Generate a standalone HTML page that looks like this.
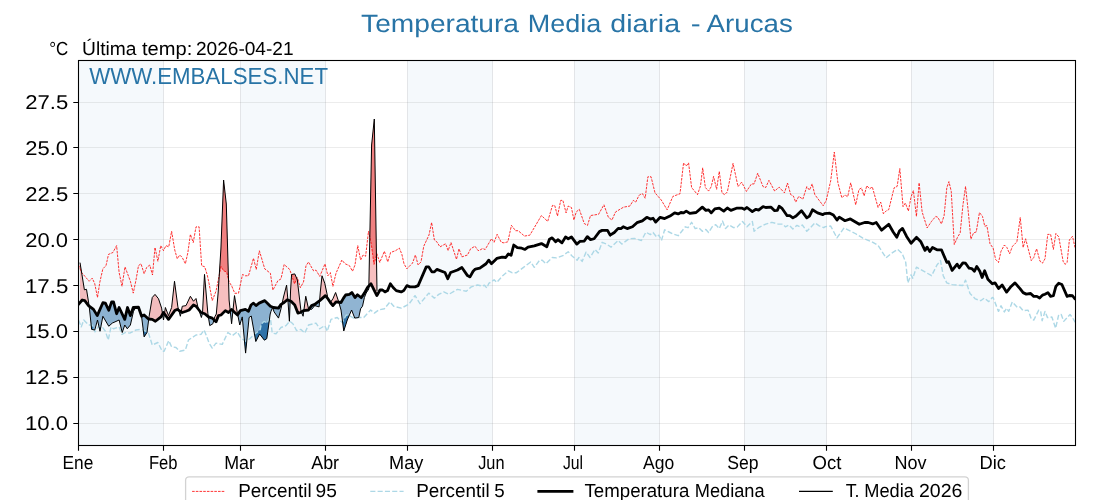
<!DOCTYPE html><html><head><meta charset="utf-8"><title>Temperatura Media diaria - Arucas</title>
<style>html,body{margin:0;padding:0;background:#fff;}body{width:1120px;height:500px;overflow:hidden;}svg{display:block;}text{font-family:"Liberation Sans",sans-serif;text-rendering:geometricPrecision;}svg{will-change:transform;}</style></head><body>
<svg width="1120" height="500" viewBox="0 0 1120 500">
<rect x="0" y="0" width="1120" height="500" fill="#fff"/>
<rect x="78.50" y="60.5" width="85.00" height="385.00" fill="#f5f9fc"/>
<rect x="240.50" y="60.5" width="85.00" height="385.00" fill="#f5f9fc"/>
<rect x="407.50" y="60.5" width="85.00" height="385.00" fill="#f5f9fc"/>
<rect x="574.50" y="60.5" width="85.00" height="385.00" fill="#f5f9fc"/>
<rect x="744.50" y="60.5" width="82.00" height="385.00" fill="#f5f9fc"/>
<rect x="911.50" y="60.5" width="82.00" height="385.00" fill="#f5f9fc"/>
<path d="M163.50,60.5 V445.5 M240.50,60.5 V445.5 M325.50,60.5 V445.5 M407.50,60.5 V445.5 M492.50,60.5 V445.5 M574.50,60.5 V445.5 M659.50,60.5 V445.5 M744.50,60.5 V445.5 M826.50,60.5 V445.5 M911.50,60.5 V445.5 M993.50,60.5 V445.5" stroke="#707880" stroke-opacity="0.17" stroke-width="1" fill="none"/>
<path d="M78.5,423.50 H1075.5 M78.5,377.50 H1075.5 M78.5,331.50 H1075.5 M78.5,285.50 H1075.5 M78.5,239.50 H1075.5 M78.5,193.50 H1075.5 M78.5,147.50 H1075.5 M78.5,102.50 H1075.5" stroke="#808080" stroke-opacity="0.15" stroke-width="1" fill="none"/>
<clipPath id="ax"><rect x="78.5" y="60.5" width="997.0" height="385.0"/></clipPath>
<g clip-path="url(#ax)" fill="none" stroke-linejoin="round">
<path d="M80.00,262.60 L80.50,265.69 L81.00,268.78 L81.25,270.33 L81.50,271.87 L81.62,272.65 L82.00,274.96 L82.25,276.51 L82.50,278.05 L83.00,281.15 L83.50,284.24 L83.75,285.78 L84.00,287.33 L84.40,289.80 L84.50,289.78 L84.75,289.72 L85.00,289.66 L85.50,289.54 L86.00,289.42 L86.50,289.30 L87.00,292.41 L87.50,295.53 L88.00,298.64 L88.50,301.75 L88.70,303.00 L89.00,305.33 L89.12,306.09 L89.50,306.38 L89.60,306.45 L90.00,306.75 L90.50,307.12 L91.00,307.50 L91.50,307.88 L91.62,307.97 L92.00,308.25 L92.25,308.44 L92.50,308.62 L93.00,309.00 L93.50,309.38 L94.00,310.21 L94.50,311.04 L94.75,311.46 L95.00,311.88 L95.50,312.71 L96.00,313.54 L96.50,314.38 L97.00,315.21 L97.25,315.62 L97.50,315.05 L97.88,314.19 L98.00,313.91 L98.50,312.76 L99.00,311.62 L99.50,310.48 L99.75,309.90 L100.00,309.33 L100.50,308.19 L101.00,307.04 L101.50,305.90 L101.62,305.61 L102.00,304.75 L102.50,303.61 L102.88,302.75 L103.00,302.77 L103.50,302.84 L104.00,302.92 L104.50,302.99 L105.00,303.07 L105.38,303.12 L105.50,303.39 L106.00,304.44 L106.50,305.50 L107.00,306.56 L107.50,307.61 L108.00,308.67 L108.25,309.19 L108.50,309.72 L108.75,310.25 L109.00,309.52 L109.50,308.07 L110.00,306.61 L110.50,305.15 L111.00,303.70 L111.50,302.24 L111.62,301.88 L112.00,301.88 L112.25,301.88 L112.50,301.88 L112.88,301.88 L113.00,301.88 L113.50,301.88 L114.00,303.77 L114.50,305.68 L115.00,307.57 L115.50,309.48 L116.00,311.38 L116.50,313.27 L116.62,313.75 L117.00,312.81 L117.50,311.56 L118.00,310.31 L118.50,309.06 L119.00,307.81 L119.12,307.50 L119.50,308.29 L120.00,309.35 L120.50,310.40 L121.00,311.46 L121.50,312.51 L122.00,313.57 L122.25,314.10 L122.50,314.62 L123.00,315.68 L123.50,316.74 L124.00,317.79 L124.12,318.06 L124.50,318.85 L124.75,319.38 L125.00,318.30 L125.38,316.68 L125.50,316.14 L126.00,313.98 L126.50,311.82 L127.00,309.66 L127.25,308.58 L127.50,307.50 L128.00,308.91 L128.50,310.33 L129.00,311.74 L129.50,313.15 L129.75,313.86 L130.00,314.57 L130.38,315.62 L130.50,315.27 L131.00,313.86 L131.50,312.45 L132.00,311.03 L132.50,309.62 L133.00,308.21 L133.25,307.50 L133.50,307.49 L134.00,307.46 L134.50,307.44 L135.00,307.42 L135.50,307.39 L135.75,307.38 L136.00,307.37 L136.50,307.33 L137.00,307.22 L137.50,307.10 L138.00,306.99 L138.50,306.88 L139.00,308.48 L139.50,310.07 L140.00,311.57 L140.50,313.01 L141.00,314.45 L141.50,315.89 L141.62,316.25 L142.00,316.06 L142.50,315.81 L143.00,315.56 L143.50,315.31 L144.00,315.06 L144.12,315.00 L144.50,315.34 L145.00,315.80 L145.50,316.26 L146.00,316.71 L146.50,317.17 L146.62,317.29 L147.00,317.63 L147.50,318.09 L148.00,318.54 L148.50,319.00 L149.00,317.21 L149.12,316.25 L149.50,314.00 L149.75,312.50 L150.00,311.00 L150.50,308.00 L151.00,305.00 L151.50,302.00 L152.00,299.00 L152.25,297.50 L152.50,297.22 L153.00,296.65 L153.50,296.08 L154.00,295.51 L154.50,294.94 L155.00,294.38 L155.38,294.84 L155.50,295.00 L156.00,295.62 L156.50,296.25 L157.00,296.88 L157.50,297.50 L157.88,297.97 L158.00,298.12 L158.50,298.75 L159.00,300.25 L159.50,301.75 L160.00,303.25 L160.50,304.75 L160.75,305.50 L161.00,306.25 L161.50,307.75 L161.62,308.12 L162.00,310.50 L162.25,312.08 L162.50,313.67 L163.00,313.38 L163.50,312.50 L164.00,313.19 L164.12,313.36 L164.50,313.33 L165.00,310.00 L165.38,307.50 L165.50,307.82 L166.00,309.12 L166.50,310.43 L167.00,311.73 L167.50,313.02 L168.00,314.32 L168.50,315.62 L168.75,314.98 L169.00,314.32 L169.50,313.02 L170.00,311.73 L170.50,310.43 L171.00,309.12 L171.50,307.82 L171.62,307.50 L172.00,304.08 L172.50,299.51 L173.00,294.95 L173.50,290.38 L174.00,285.82 L174.50,281.25 L174.75,283.15 L175.00,285.05 L175.50,288.84 L176.00,292.64 L176.50,296.44 L177.00,300.23 L177.25,302.13 L177.50,304.03 L177.88,306.88 L178.00,307.34 L178.50,309.22 L179.00,310.47 L179.50,310.78 L179.75,310.94 L180.00,311.09 L180.38,311.33 L180.50,311.41 L181.00,311.72 L181.50,310.25 L182.00,307.58 L182.25,306.25 L182.50,306.21 L183.00,306.12 L183.50,306.04 L184.00,305.96 L184.50,305.88 L185.00,305.79 L185.38,305.73 L185.50,305.71 L186.00,305.62 L186.50,304.55 L187.00,303.48 L187.50,302.41 L187.88,301.61 L188.00,301.34 L188.50,300.27 L189.00,299.20 L189.12,298.93 L189.50,298.12 L190.00,297.05 L190.38,296.25 L190.50,296.45 L191.00,297.25 L191.50,298.05 L192.00,298.85 L192.50,299.65 L193.00,300.45 L193.25,300.85 L193.50,301.25 L194.00,300.70 L194.50,300.15 L195.00,299.60 L195.50,299.05 L196.00,298.50 L196.50,300.73 L197.00,302.97 L197.50,305.20 L197.88,306.88 L198.00,307.25 L198.50,308.77 L199.00,310.00 L199.12,310.16 L199.50,310.62 L200.00,311.25 L200.50,311.88 L201.00,312.50 L201.38,312.62 L201.50,312.67 L201.62,312.71 L202.00,312.83 L202.50,313.00 L203.00,303.44 L203.50,293.75 L204.00,284.06 L204.12,281.64 L204.50,274.38 L204.75,277.29 L205.00,280.21 L205.50,286.04 L206.00,291.88 L206.50,297.71 L206.62,299.17 L207.00,303.54 L207.25,306.46 L207.50,309.38 L207.88,313.75 L208.00,314.54 L208.50,316.88 L209.00,317.04 L209.12,317.08 L209.50,317.21 L209.75,317.29 L210.00,317.38 L210.50,317.54 L211.00,317.71 L211.50,317.88 L212.00,318.04 L212.25,318.12 L212.50,318.38 L212.88,318.75 L213.00,318.88 L213.50,319.38 L214.00,319.62 L214.50,317.79 L214.75,316.88 L215.00,316.41 L215.50,315.48 L216.00,314.56 L216.30,314.00 L216.50,311.68 L217.00,305.89 L217.50,300.11 L217.88,295.76 L218.00,294.32 L218.20,292.00 L218.50,287.22 L219.00,279.26 L219.50,271.30 L220.00,263.33 L220.50,255.37 L220.90,249.00 L221.00,246.44 L221.50,233.67 L222.00,220.89 L222.25,214.50 L222.50,208.11 L223.00,195.33 L223.50,182.56 L223.60,180.00 L224.00,183.56 L224.50,188.00 L225.00,192.44 L225.38,195.78 L225.50,196.89 L226.00,201.33 L226.30,204.00 L226.50,210.86 L226.62,215.14 L227.00,228.00 L227.50,245.14 L227.88,258.00 L228.00,262.29 L228.50,279.43 L229.00,296.57 L229.10,300.00 L229.12,300.24 L229.50,303.80 L230.00,308.55 L230.50,310.50 L231.00,310.00 L231.50,309.50 L231.60,309.40 L231.62,309.38 L232.00,309.75 L232.25,310.00 L232.50,310.25 L233.00,310.16 L233.50,305.31 L234.00,300.45 L234.50,295.60 L234.75,297.12 L235.00,298.64 L235.50,301.67 L236.00,304.71 L236.50,307.75 L237.00,310.79 L237.20,312.00 L237.25,312.25 L237.50,313.53 L238.00,314.24 L238.50,313.48 L239.00,312.72 L239.50,311.96 L239.75,311.58 L240.00,311.20 L240.38,310.62 L240.50,310.59 L241.00,310.47 L241.50,310.34 L242.00,310.22 L242.25,310.16 L242.50,310.09 L243.00,309.97 L243.50,309.84 L244.00,309.72 L244.50,309.59 L245.00,309.47 L245.38,309.38 L245.50,309.45 L245.60,309.51 L246.00,309.75 L246.50,310.05 L247.00,310.35 L247.50,310.65 L248.00,310.95 L248.50,311.25 L249.00,310.00 L249.10,309.75 L249.50,308.75 L249.75,308.12 L250.00,307.50 L250.50,306.25 L251.00,305.00 L251.25,304.81 L251.50,304.62 L252.00,304.25 L252.50,303.88 L253.00,303.50 L253.50,303.12 L254.00,303.62 L254.50,304.12 L254.75,304.38 L255.00,304.62 L255.50,305.12 L255.80,305.43 L256.00,305.62 L256.25,305.43 L256.50,305.23 L257.00,304.82 L257.50,304.43 L258.00,304.02 L258.50,303.62 L259.00,303.23 L259.12,303.12 L259.38,303.01 L259.50,302.96 L259.60,302.91 L260.00,302.74 L260.20,302.65 L260.50,302.51 L261.00,302.29 L261.30,302.16 L261.50,302.07 L262.00,301.85 L262.50,301.62 L263.00,301.40 L263.50,301.18 L264.00,300.96 L264.40,300.78 L264.50,300.74 L264.75,300.62 L265.00,300.88 L265.50,301.38 L266.00,301.88 L266.50,302.38 L266.80,302.68 L267.00,302.88 L267.20,303.07 L267.50,303.38 L267.88,303.75 L268.00,303.88 L268.50,304.38 L269.00,304.88 L269.30,305.18 L269.50,305.38 L270.00,305.88 L270.20,306.07 L270.38,306.25 L270.50,306.30 L271.00,306.50 L271.50,306.70 L272.00,306.90 L272.25,307.00 L272.50,307.10 L272.60,307.14 L272.88,307.25 L273.00,307.30 L273.50,307.50 L274.00,307.56 L274.10,307.57 L274.50,307.62 L275.00,307.69 L275.50,307.75 L276.00,307.81 L276.50,307.88 L277.00,307.94 L277.50,308.00 L277.88,308.05 L278.00,308.06 L278.50,308.12 L279.00,307.38 L279.50,306.62 L280.00,305.88 L280.50,305.12 L281.00,304.38 L281.50,304.07 L282.00,303.77 L282.50,301.70 L283.00,299.35 L283.50,297.00 L284.00,295.08 L284.12,294.60 L284.50,293.16 L285.00,291.24 L285.50,289.32 L286.00,287.40 L286.50,285.48 L286.60,285.10 L287.00,289.68 L287.25,292.55 L287.50,295.42 L287.90,300.00 L288.00,300.05 L288.50,300.25 L289.00,300.45 L289.40,300.61 L289.50,300.65 L289.75,300.75 L290.00,300.85 L290.50,292.60 L290.60,290.00 L291.00,283.80 L291.50,276.05 L291.60,274.50 L292.00,274.42 L292.50,274.33 L292.88,274.26 L293.00,274.23 L293.50,274.14 L294.00,274.04 L294.50,273.95 L294.75,273.90 L295.00,274.46 L295.50,275.58 L296.00,276.70 L296.50,277.82 L296.62,278.10 L297.00,278.94 L297.25,279.50 L297.50,281.62 L297.88,284.79 L298.00,285.85 L298.50,290.08 L299.00,294.32 L299.50,298.55 L300.00,302.78 L300.38,305.96 L300.50,307.02 L301.00,311.25 L301.50,311.82 L302.00,311.52 L302.50,311.23 L303.00,310.93 L303.10,310.87 L303.50,310.62 L304.00,309.46 L304.50,305.68 L304.75,303.80 L305.00,301.91 L305.50,298.14 L305.75,296.25 L306.00,297.39 L306.50,299.66 L307.00,301.93 L307.50,304.20 L308.00,306.48 L308.50,308.75 L309.00,308.85 L309.50,308.60 L310.00,307.90 L310.50,307.20 L311.00,306.50 L311.50,305.80 L311.60,305.66 L311.62,305.62 L312.00,305.48 L312.50,305.27 L313.00,305.07 L313.50,304.88 L314.00,304.68 L314.50,304.48 L314.75,304.38 L315.00,304.19 L315.50,303.81 L316.00,303.44 L316.50,303.06 L317.00,302.69 L317.50,302.31 L318.00,301.94 L318.50,301.56 L319.00,301.19 L319.10,301.11 L319.50,300.81 L319.75,298.83 L320.00,295.73 L320.30,292.00 L320.50,290.09 L321.00,285.31 L321.50,280.53 L322.00,275.75 L322.50,277.11 L323.00,278.48 L323.50,279.84 L324.00,281.20 L324.50,282.57 L324.75,283.25 L325.00,284.42 L325.38,286.18 L325.50,286.76 L326.00,289.10 L326.50,291.44 L327.00,293.79 L327.25,294.96 L327.50,296.13 L327.88,297.88 L327.90,298.00 L328.00,298.18 L328.50,299.08 L329.00,299.98 L329.50,300.88 L330.00,301.78 L330.38,302.46 L330.40,302.50 L330.50,302.35 L331.00,301.60 L331.50,300.85 L332.00,300.10 L332.50,299.35 L332.88,298.79 L332.90,298.75 L333.00,298.52 L333.50,297.36 L334.00,296.20 L334.50,295.05 L335.00,293.89 L335.50,292.73 L335.60,292.50 L336.00,293.71 L336.50,295.22 L337.00,296.72 L337.25,297.48 L337.50,298.23 L338.00,299.74 L338.50,301.25 L339.00,302.25 L339.50,302.31 L340.00,302.38 L340.50,302.44 L341.00,302.50 L341.50,301.62 L341.88,300.97 L342.00,300.75 L342.25,300.31 L342.50,299.88 L343.00,299.00 L343.50,298.12 L343.75,297.76 L344.00,297.39 L344.50,296.65 L345.00,295.92 L345.50,295.18 L345.62,295.00 L346.00,294.94 L346.25,294.90 L346.50,294.85 L347.00,294.77 L347.25,294.73 L347.50,294.69 L348.00,294.60 L348.50,294.52 L349.00,294.44 L349.38,294.38 L349.50,294.28 L350.00,293.91 L350.50,293.53 L351.00,293.16 L351.50,292.78 L351.60,292.71 L351.88,292.50 L352.00,292.70 L352.50,293.50 L353.00,294.30 L353.50,295.10 L353.75,295.50 L354.00,295.90 L354.50,296.70 L354.75,297.10 L355.00,297.50 L355.50,296.95 L356.00,296.40 L356.50,295.85 L357.00,295.30 L357.50,294.75 L357.75,294.95 L358.00,295.15 L358.50,295.55 L358.75,295.75 L359.00,295.95 L359.50,296.35 L360.00,296.75 L360.50,297.15 L360.60,297.23 L360.62,297.25 L361.00,297.55 L361.25,297.75 L361.50,297.38 L362.00,296.64 L362.50,295.90 L363.00,295.16 L363.12,294.98 L363.50,294.42 L363.75,294.05 L364.00,293.68 L364.38,293.12 L364.40,293.08 L364.50,292.90 L365.00,292.00 L365.50,291.10 L365.62,290.88 L366.00,290.20 L366.20,289.84 L366.50,289.30 L367.00,288.40 L367.50,287.50 L368.00,286.96 L368.50,286.43 L368.80,286.11 L369.00,278.71 L369.50,253.00 L370.00,227.29 L370.50,201.57 L370.62,195.14 L371.00,175.86 L371.25,163.00 L371.50,150.14 L371.60,145.00 L372.00,141.15 L372.50,136.33 L373.00,131.52 L373.50,126.70 L373.75,124.30 L374.00,121.89 L374.30,119.00 L374.38,123.78 L374.50,131.74 L375.00,163.59 L375.50,195.44 L376.00,227.30 L376.50,259.15 L376.88,283.04 L377.00,291.00 L377.00,295.40 L376.88,295.62 L376.50,294.88 L376.00,293.88 L375.50,292.88 L375.00,291.88 L374.50,290.88 L374.38,290.62 L374.30,290.48 L374.00,289.88 L373.75,289.38 L373.50,288.86 L373.00,287.84 L372.50,286.82 L372.00,285.80 L371.60,284.98 L371.50,284.77 L371.25,284.26 L371.00,283.75 L370.62,284.15 L370.50,284.29 L370.00,284.82 L369.50,285.36 L369.00,285.89 L368.80,286.11 L368.50,286.43 L368.00,286.96 L367.50,287.50 L367.00,288.40 L366.50,289.30 L366.20,289.84 L366.00,290.20 L365.62,290.88 L365.50,291.10 L365.00,292.00 L364.50,292.90 L364.40,293.08 L364.38,293.12 L364.00,293.68 L363.75,294.05 L363.50,294.42 L363.12,294.98 L363.00,295.16 L362.50,295.90 L362.00,296.64 L361.50,297.38 L361.25,297.75 L361.00,297.55 L360.62,297.25 L360.60,297.23 L360.50,297.15 L360.00,296.75 L359.50,296.35 L359.00,295.95 L358.75,295.75 L358.50,295.55 L358.00,295.15 L357.75,294.95 L357.50,294.75 L357.00,295.30 L356.50,295.85 L356.00,296.40 L355.50,296.95 L355.00,297.50 L354.75,297.10 L354.50,296.70 L354.00,295.90 L353.75,295.50 L353.50,295.10 L353.00,294.30 L352.50,293.50 L352.00,292.70 L351.88,292.50 L351.60,292.71 L351.50,292.78 L351.00,293.16 L350.50,293.53 L350.00,293.91 L349.50,294.28 L349.38,294.38 L349.00,294.44 L348.50,294.52 L348.00,294.60 L347.50,294.69 L347.25,294.73 L347.00,294.77 L346.50,294.85 L346.25,294.90 L346.00,294.94 L345.62,295.00 L345.50,295.18 L345.00,295.92 L344.50,296.65 L344.00,297.39 L343.75,297.76 L343.50,298.12 L343.00,299.00 L342.50,299.88 L342.25,300.31 L342.00,300.75 L341.88,300.97 L341.50,301.62 L341.00,302.50 L340.50,302.44 L340.00,302.38 L339.50,302.31 L339.00,302.25 L338.50,302.19 L338.00,302.12 L337.50,302.06 L337.25,302.03 L337.00,302.00 L336.50,301.94 L336.00,301.88 L335.60,302.35 L335.50,302.48 L335.00,303.07 L334.50,303.68 L334.00,304.27 L333.50,304.88 L333.00,305.48 L332.90,305.60 L332.88,305.62 L332.50,305.16 L332.00,304.53 L331.50,303.91 L331.00,303.28 L330.50,302.66 L330.40,302.53 L330.38,302.50 L330.00,301.94 L329.50,301.19 L329.00,300.44 L328.50,299.69 L328.00,298.94 L327.90,298.79 L327.88,298.75 L327.50,298.28 L327.25,297.97 L327.00,297.66 L326.50,297.03 L326.00,296.41 L325.50,295.78 L325.38,295.62 L325.00,295.96 L324.75,296.18 L324.50,296.40 L324.00,296.85 L323.50,297.29 L323.00,297.74 L322.50,298.18 L322.00,298.62 L321.50,299.07 L321.00,299.51 L320.50,299.96 L320.30,300.14 L320.00,300.40 L319.75,300.62 L319.50,300.81 L319.10,301.11 L319.00,301.19 L318.50,301.56 L318.00,301.94 L317.50,302.31 L317.00,302.69 L316.50,303.06 L316.00,303.44 L315.50,303.81 L315.00,304.19 L314.75,304.38 L314.50,304.48 L314.00,304.68 L313.50,304.88 L313.00,305.07 L312.50,305.27 L312.00,305.48 L311.62,305.62 L311.60,305.66 L311.50,305.80 L311.00,306.50 L310.50,307.20 L310.00,307.90 L309.50,308.60 L309.00,309.30 L308.50,310.00 L308.00,310.06 L307.50,310.12 L307.00,310.19 L306.50,310.25 L306.00,310.31 L305.75,310.34 L305.50,310.38 L305.00,310.44 L304.75,310.47 L304.50,310.50 L304.00,310.56 L303.50,310.62 L303.10,310.87 L303.00,310.93 L302.50,311.23 L302.00,311.52 L301.50,311.82 L301.00,312.12 L300.50,312.43 L300.38,312.50 L300.00,312.59 L299.50,312.72 L299.00,312.84 L298.50,312.97 L298.00,313.09 L297.88,313.12 L297.50,312.15 L297.25,311.50 L297.00,310.85 L296.62,309.88 L296.50,309.55 L296.00,308.25 L295.50,306.95 L295.00,305.65 L294.75,305.00 L294.50,304.75 L294.00,304.25 L293.50,303.75 L293.00,303.25 L292.88,303.12 L292.50,302.75 L292.00,302.25 L291.60,301.85 L291.50,301.75 L291.00,301.25 L290.60,301.09 L290.50,301.05 L290.00,300.85 L289.75,300.75 L289.50,300.65 L289.40,300.61 L289.00,300.45 L288.50,300.25 L288.00,300.05 L287.90,300.01 L287.50,299.85 L287.25,299.75 L287.00,299.97 L286.60,300.32 L286.50,300.41 L286.00,300.85 L285.50,301.29 L285.00,301.73 L284.50,302.17 L284.12,302.50 L284.00,302.57 L283.50,302.88 L283.00,303.18 L282.50,303.48 L282.00,303.77 L281.50,304.07 L281.00,304.38 L280.50,305.12 L280.00,305.88 L279.50,306.62 L279.00,307.38 L278.50,308.12 L278.00,308.06 L277.88,308.05 L277.50,308.00 L277.00,307.94 L276.50,307.88 L276.00,307.81 L275.50,307.75 L275.00,307.69 L274.50,307.62 L274.10,307.57 L274.00,307.56 L273.50,307.50 L273.00,307.30 L272.88,307.25 L272.60,307.14 L272.50,307.10 L272.25,307.00 L272.00,306.90 L271.50,306.70 L271.00,306.50 L270.50,306.30 L270.38,306.25 L270.20,306.07 L270.00,305.88 L269.50,305.38 L269.30,305.18 L269.00,304.88 L268.50,304.38 L268.00,303.88 L267.88,303.75 L267.50,303.38 L267.20,303.07 L267.00,302.88 L266.80,302.68 L266.50,302.38 L266.00,301.88 L265.50,301.38 L265.00,300.88 L264.75,300.62 L264.50,300.74 L264.40,300.78 L264.00,300.96 L263.50,301.18 L263.00,301.40 L262.50,301.62 L262.00,301.85 L261.50,302.07 L261.30,302.16 L261.00,302.29 L260.50,302.51 L260.20,302.65 L260.00,302.74 L259.60,302.91 L259.50,302.96 L259.38,303.01 L259.12,303.12 L259.00,303.23 L258.50,303.62 L258.00,304.02 L257.50,304.43 L257.00,304.82 L256.50,305.23 L256.25,305.43 L256.00,305.62 L255.80,305.43 L255.50,305.12 L255.00,304.62 L254.75,304.38 L254.50,304.12 L254.00,303.62 L253.50,303.12 L253.00,303.50 L252.50,303.88 L252.00,304.25 L251.50,304.62 L251.25,304.81 L251.00,305.00 L250.50,306.25 L250.00,307.50 L249.75,308.12 L249.50,308.75 L249.10,309.75 L249.00,310.00 L248.50,311.25 L248.00,310.95 L247.50,310.65 L247.00,310.35 L246.50,310.05 L246.00,309.75 L245.60,309.51 L245.50,309.45 L245.38,309.38 L245.00,309.47 L244.50,309.59 L244.00,309.72 L243.50,309.84 L243.00,309.97 L242.50,310.09 L242.25,310.16 L242.00,310.22 L241.50,310.34 L241.00,310.47 L240.50,310.59 L240.38,310.62 L240.00,311.20 L239.75,311.58 L239.50,311.96 L239.00,312.72 L238.50,313.48 L238.00,314.24 L237.50,315.00 L237.25,314.77 L237.20,314.73 L237.00,314.55 L236.50,314.09 L236.00,313.64 L235.50,313.18 L235.00,312.73 L234.75,312.50 L234.50,312.25 L234.00,311.75 L233.50,311.25 L233.00,310.75 L232.50,310.25 L232.25,310.00 L232.00,309.75 L231.62,309.38 L231.60,309.40 L231.50,309.50 L231.00,310.00 L230.50,310.50 L230.00,311.00 L229.50,311.50 L229.12,311.88 L229.10,311.90 L229.00,312.00 L228.50,312.50 L228.00,312.20 L227.88,312.12 L227.50,311.90 L227.00,311.60 L226.62,311.38 L226.50,311.30 L226.30,311.18 L226.00,311.00 L225.50,310.70 L225.38,310.62 L225.00,311.00 L224.50,311.50 L224.00,312.00 L223.60,312.40 L223.50,312.50 L223.00,313.00 L222.50,313.50 L222.25,313.75 L222.00,314.00 L221.50,314.50 L221.00,315.00 L220.90,315.02 L220.50,315.12 L220.00,315.25 L219.50,315.38 L219.00,315.50 L218.50,315.62 L218.20,316.38 L218.00,316.88 L217.88,317.19 L217.50,318.12 L217.00,319.38 L216.50,320.62 L216.30,321.12 L216.00,321.88 L215.50,321.38 L215.00,320.88 L214.75,320.62 L214.50,320.38 L214.00,319.88 L213.50,319.38 L213.00,318.88 L212.88,318.75 L212.50,318.38 L212.25,318.12 L212.00,318.04 L211.50,317.88 L211.00,317.71 L210.50,317.54 L210.00,317.38 L209.75,317.29 L209.50,317.21 L209.12,317.08 L209.00,317.04 L208.50,316.88 L208.00,316.46 L207.88,316.35 L207.50,316.04 L207.25,315.83 L207.00,315.62 L206.62,315.31 L206.50,315.21 L206.00,314.79 L205.50,314.38 L205.00,313.96 L204.75,313.75 L204.50,313.67 L204.12,313.54 L204.00,313.50 L203.50,313.33 L203.00,313.17 L202.50,313.00 L202.00,312.83 L201.62,312.71 L201.50,312.67 L201.38,312.62 L201.00,312.50 L200.50,311.88 L200.00,311.25 L199.50,310.62 L199.12,310.16 L199.00,310.00 L198.50,309.38 L198.00,308.75 L197.88,308.59 L197.50,308.12 L197.00,307.50 L196.50,306.88 L196.00,306.25 L195.50,306.00 L195.00,305.75 L194.50,305.50 L194.00,305.25 L193.50,305.00 L193.25,305.29 L193.00,305.57 L192.50,306.14 L192.00,306.71 L191.50,307.29 L191.00,307.86 L190.50,308.43 L190.38,308.57 L190.00,309.00 L189.50,309.57 L189.12,310.00 L189.00,310.05 L188.50,310.25 L188.00,310.45 L187.88,310.50 L187.50,310.65 L187.00,310.85 L186.50,311.05 L186.00,311.25 L185.50,311.42 L185.38,311.46 L185.00,311.58 L184.50,311.75 L184.00,311.92 L183.50,312.08 L183.00,312.25 L182.50,312.42 L182.25,312.50 L182.00,312.34 L181.50,312.03 L181.00,311.72 L180.50,311.41 L180.38,311.33 L180.00,311.09 L179.75,310.94 L179.50,310.78 L179.00,310.47 L178.50,310.16 L178.00,309.84 L177.88,309.77 L177.50,309.53 L177.25,309.38 L177.00,309.50 L176.50,309.75 L176.00,310.00 L175.50,310.25 L175.00,310.50 L174.75,310.62 L174.50,310.98 L174.00,311.68 L173.50,312.38 L173.00,313.07 L172.50,313.77 L172.00,314.48 L171.62,315.00 L171.50,315.18 L171.00,315.88 L170.50,316.57 L170.00,317.27 L169.50,317.98 L169.00,318.68 L168.75,319.02 L168.50,319.38 L168.00,318.69 L167.50,318.00 L167.00,317.31 L166.50,316.62 L166.00,315.94 L165.50,315.25 L165.38,315.08 L165.00,314.56 L164.50,313.88 L164.12,313.36 L164.00,313.19 L163.50,312.50 L163.00,313.38 L162.50,314.25 L162.25,314.69 L162.00,315.12 L161.62,315.78 L161.50,316.00 L161.00,316.88 L160.75,317.07 L160.50,317.26 L160.00,317.65 L159.50,318.04 L159.00,318.43 L158.50,318.82 L158.00,319.21 L157.88,319.31 L157.50,319.60 L157.00,319.99 L156.50,320.38 L156.00,320.76 L155.50,321.15 L155.38,321.25 L155.00,321.02 L154.50,320.73 L154.00,320.43 L153.50,320.12 L153.00,319.82 L152.50,319.52 L152.25,319.38 L152.00,319.35 L151.50,319.30 L151.00,319.25 L150.50,319.20 L150.00,319.15 L149.75,319.12 L149.50,319.10 L149.12,319.06 L149.00,319.05 L148.50,319.00 L148.00,318.54 L147.50,318.09 L147.00,317.63 L146.62,317.29 L146.50,317.17 L146.00,316.71 L145.50,316.26 L145.00,315.80 L144.50,315.34 L144.12,315.00 L144.00,315.06 L143.50,315.31 L143.00,315.56 L142.50,315.81 L142.00,316.06 L141.62,316.25 L141.50,315.89 L141.00,314.45 L140.50,313.01 L140.00,311.57 L139.50,310.13 L139.00,308.69 L138.50,307.25 L138.00,307.27 L137.50,307.30 L137.00,307.32 L136.50,307.35 L136.00,307.37 L135.75,307.38 L135.50,307.39 L135.00,307.42 L134.50,307.44 L134.00,307.46 L133.50,307.49 L133.25,307.50 L133.00,308.21 L132.50,309.62 L132.00,311.03 L131.50,312.45 L131.00,313.86 L130.50,315.27 L130.38,315.62 L130.00,314.57 L129.75,313.86 L129.50,313.15 L129.00,311.74 L128.50,310.33 L128.00,308.91 L127.50,307.50 L127.25,308.58 L127.00,309.66 L126.50,311.82 L126.00,313.98 L125.50,316.14 L125.38,316.68 L125.00,318.30 L124.75,319.38 L124.50,318.85 L124.12,318.06 L124.00,317.79 L123.50,316.74 L123.00,315.68 L122.50,314.62 L122.25,314.10 L122.00,313.57 L121.50,312.51 L121.00,311.46 L120.50,310.40 L120.00,309.35 L119.50,308.29 L119.12,307.50 L119.00,307.81 L118.50,309.06 L118.00,310.31 L117.50,311.56 L117.00,312.81 L116.62,313.75 L116.50,313.27 L116.00,311.38 L115.50,309.48 L115.00,307.57 L114.50,305.68 L114.00,303.77 L113.50,301.88 L113.00,301.88 L112.88,301.88 L112.50,301.88 L112.25,301.88 L112.00,301.88 L111.62,301.88 L111.50,302.24 L111.00,303.70 L110.50,305.15 L110.00,306.61 L109.50,308.07 L109.00,309.52 L108.75,310.25 L108.50,309.72 L108.25,309.19 L108.00,308.67 L107.50,307.61 L107.00,306.56 L106.50,305.50 L106.00,304.44 L105.50,303.39 L105.38,303.12 L105.00,303.07 L104.50,302.99 L104.00,302.92 L103.50,302.84 L103.00,302.77 L102.88,302.75 L102.50,303.61 L102.00,304.75 L101.62,305.61 L101.50,305.90 L101.00,307.04 L100.50,308.19 L100.00,309.33 L99.75,309.90 L99.50,310.48 L99.00,311.62 L98.50,312.76 L98.00,313.91 L97.88,314.19 L97.50,315.05 L97.25,315.62 L97.00,315.21 L96.50,314.38 L96.00,313.54 L95.50,312.71 L95.00,311.88 L94.75,311.46 L94.50,311.04 L94.00,310.21 L93.50,309.38 L93.00,309.00 L92.50,308.62 L92.25,308.44 L92.00,308.25 L91.62,307.97 L91.50,307.88 L91.00,307.50 L90.50,307.12 L90.00,306.75 L89.60,306.45 L89.50,306.38 L89.12,306.09 L89.00,306.00 L88.70,305.77 L88.50,305.62 L88.00,304.96 L87.50,304.29 L87.00,303.62 L86.50,302.96 L86.00,302.29 L85.50,301.62 L85.00,300.96 L84.75,300.62 L84.50,300.56 L84.40,300.54 L84.00,300.44 L83.75,300.38 L83.50,300.31 L83.00,300.19 L82.50,300.06 L82.25,300.00 L82.00,300.29 L81.62,300.73 L81.50,300.88 L81.25,301.17 L81.00,301.46 L80.50,302.04 L80.00,302.62Z" fill="#f08080" fill-opacity="0.5" stroke="none"/>
<path d="M80.00,262.60 L80.50,265.69 L81.00,268.78 L81.25,270.33 L81.50,271.87 L81.62,272.50 L82.00,272.94 L82.25,273.23 L82.50,273.52 L83.00,274.10 L83.50,274.69 L83.75,274.98 L84.00,275.27 L84.40,275.74 L84.50,275.85 L84.75,276.15 L85.00,276.44 L85.50,277.02 L86.00,277.60 L86.50,278.19 L87.00,278.77 L87.50,279.35 L88.00,279.94 L88.50,280.52 L88.70,280.75 L89.00,281.10 L89.12,281.25 L89.50,280.88 L89.60,280.77 L90.00,280.38 L90.50,279.88 L91.00,279.38 L91.50,278.88 L91.62,278.75 L92.00,278.38 L92.25,278.12 L92.50,278.69 L93.00,279.81 L93.50,280.94 L94.00,282.06 L94.50,283.19 L94.75,283.75 L95.00,285.00 L95.50,287.50 L96.00,290.00 L96.50,292.50 L97.00,295.00 L97.25,296.25 L97.50,297.50 L97.88,295.00 L98.00,294.17 L98.50,290.83 L99.00,287.50 L99.50,284.17 L99.75,282.50 L100.00,281.40 L100.50,279.20 L101.00,277.00 L101.50,274.80 L101.62,274.25 L102.00,272.60 L102.50,270.40 L102.88,268.75 L103.00,268.62 L103.50,268.12 L104.00,267.62 L104.50,267.12 L105.00,266.62 L105.38,266.25 L105.50,266.12 L106.00,265.62 L106.50,263.38 L107.00,261.12 L107.50,258.88 L108.00,256.62 L108.25,255.50 L108.50,254.38 L108.75,254.27 L109.00,254.16 L109.50,253.95 L110.00,253.73 L110.50,253.52 L111.00,253.30 L111.50,253.09 L111.62,253.04 L112.00,252.88 L112.25,252.77 L112.50,252.66 L112.88,252.50 L113.00,252.27 L113.50,251.35 L114.00,250.44 L114.50,249.52 L115.00,248.60 L115.50,247.69 L116.00,246.77 L116.50,245.85 L116.62,245.62 L117.00,249.66 L117.50,255.03 L118.00,260.41 L118.50,265.78 L119.00,271.16 L119.12,272.50 L119.50,274.29 L120.00,276.68 L120.50,279.08 L121.00,281.47 L121.50,283.86 L122.00,286.25 L122.25,284.63 L122.50,283.01 L123.00,279.78 L123.50,276.54 L124.00,273.31 L124.12,272.50 L124.50,270.09 L124.75,268.48 L125.00,266.88 L125.38,267.88 L125.50,268.21 L126.00,269.55 L126.50,270.89 L127.00,272.22 L127.25,272.89 L127.50,273.56 L128.00,274.90 L128.50,276.24 L129.00,277.57 L129.50,278.91 L129.75,279.58 L130.00,280.25 L130.38,281.25 L130.50,281.77 L131.00,283.83 L131.50,285.90 L132.00,287.96 L132.50,290.03 L133.00,292.09 L133.25,293.12 L133.50,291.93 L134.00,289.55 L134.50,287.16 L135.00,284.77 L135.50,282.39 L135.75,281.19 L136.00,280.00 L136.50,277.12 L137.00,274.25 L137.50,271.38 L138.00,268.50 L138.50,265.62 L139.00,265.25 L139.50,264.88 L140.00,264.50 L140.50,264.12 L141.00,263.75 L141.50,265.35 L141.62,265.75 L142.00,266.95 L142.50,268.55 L143.00,270.15 L143.50,271.75 L144.00,273.35 L144.12,273.75 L144.50,272.81 L145.00,271.56 L145.50,270.31 L146.00,269.06 L146.50,267.81 L146.62,267.50 L147.00,267.20 L147.50,266.80 L148.00,266.40 L148.50,266.00 L149.00,265.60 L149.12,265.50 L149.50,265.20 L149.75,265.00 L150.00,265.91 L150.50,267.73 L151.00,269.55 L151.50,271.36 L152.00,273.18 L152.25,274.09 L152.50,275.00 L153.00,269.50 L153.50,264.00 L154.00,258.50 L154.50,253.00 L155.00,247.50 L155.38,249.29 L155.50,249.89 L156.00,252.28 L156.50,254.67 L157.00,257.07 L157.50,259.46 L157.88,261.25 L158.00,260.57 L158.50,257.85 L159.00,255.14 L159.50,252.42 L160.00,249.70 L160.50,246.98 L160.75,245.62 L161.00,246.08 L161.50,246.99 L161.62,247.22 L162.00,247.90 L162.25,248.35 L162.50,248.81 L163.00,249.72 L163.50,250.62 L164.00,249.62 L164.12,249.38 L164.50,248.62 L165.00,247.62 L165.38,246.88 L165.50,246.62 L166.00,245.62 L166.50,245.85 L167.00,246.08 L167.50,246.31 L168.00,246.53 L168.50,246.76 L168.75,246.88 L169.00,245.52 L169.50,242.80 L170.00,240.08 L170.50,237.36 L171.00,234.65 L171.50,231.93 L171.62,231.25 L172.00,233.50 L172.50,236.50 L173.00,239.50 L173.50,242.50 L174.00,245.50 L174.50,248.50 L174.75,250.00 L175.00,250.88 L175.50,252.62 L176.00,254.38 L176.50,256.12 L177.00,257.88 L177.25,258.75 L177.50,258.38 L177.88,257.81 L178.00,257.62 L178.50,256.88 L179.00,256.12 L179.50,255.38 L179.75,255.00 L180.00,255.25 L180.38,255.62 L180.50,255.75 L181.00,256.25 L181.50,256.75 L182.00,257.25 L182.25,257.50 L182.50,258.00 L183.00,259.00 L183.50,260.00 L184.00,261.00 L184.50,262.00 L185.00,263.00 L185.38,263.75 L185.50,263.19 L186.00,260.94 L186.50,258.69 L187.00,256.44 L187.50,254.19 L187.88,252.50 L188.00,251.59 L188.50,247.97 L189.00,244.34 L189.12,243.44 L189.50,240.72 L190.00,237.09 L190.38,234.38 L190.50,234.73 L191.00,236.14 L191.50,237.55 L192.00,238.97 L192.50,240.38 L193.00,241.79 L193.25,242.50 L193.50,241.08 L194.00,238.24 L194.50,235.40 L195.00,232.56 L195.50,229.72 L196.00,226.88 L196.50,226.88 L197.00,226.88 L197.50,226.88 L197.88,226.88 L198.00,226.88 L198.50,226.88 L199.00,226.88 L199.12,226.88 L199.50,232.69 L200.00,240.44 L200.50,248.19 L201.00,255.94 L201.38,261.75 L201.50,263.69 L201.62,265.62 L202.00,265.77 L202.50,265.98 L203.00,266.18 L203.50,266.38 L204.00,266.57 L204.12,266.62 L204.50,266.77 L204.75,266.88 L205.00,267.69 L205.50,269.31 L206.00,270.94 L206.50,272.56 L206.62,272.97 L207.00,274.19 L207.25,275.00 L207.50,276.17 L207.88,277.92 L208.00,278.50 L208.50,280.83 L209.00,283.17 L209.12,283.75 L209.50,285.77 L209.75,287.12 L210.00,288.48 L210.50,291.18 L211.00,293.88 L211.50,296.57 L212.00,299.27 L212.25,300.62 L212.50,300.00 L212.88,299.06 L213.00,298.75 L213.50,297.50 L214.00,296.25 L214.50,295.00 L214.75,294.38 L215.00,293.75 L215.50,292.50 L216.00,291.25 L216.30,289.77 L216.50,288.78 L217.00,286.32 L217.50,283.85 L217.88,282.00 L218.00,281.38 L218.20,280.38 L218.50,278.88 L219.00,276.38 L219.50,271.30 L220.00,263.33 L220.50,255.37 L220.90,249.00 L221.00,246.44 L221.50,233.67 L222.00,220.89 L222.25,214.50 L222.50,208.11 L223.00,195.33 L223.50,182.56 L223.60,180.00 L224.00,183.56 L224.50,188.00 L225.00,192.44 L225.38,195.78 L225.50,196.89 L226.00,201.33 L226.30,204.00 L226.50,210.86 L226.62,215.14 L227.00,228.00 L227.50,245.14 L227.88,258.00 L228.00,262.29 L228.50,279.43 L229.00,281.50 L229.10,281.90 L229.12,282.00 L229.50,282.56 L230.00,283.31 L230.50,284.06 L231.00,284.81 L231.50,285.56 L231.60,285.71 L231.62,285.75 L232.00,286.65 L232.25,287.25 L232.50,287.85 L233.00,289.05 L233.50,290.25 L234.00,291.45 L234.50,292.65 L234.75,293.25 L235.00,293.25 L235.50,293.25 L236.00,293.25 L236.50,293.25 L237.00,293.25 L237.20,293.25 L237.25,293.25 L237.50,293.25 L238.00,293.25 L238.50,293.25 L239.00,290.91 L239.50,288.56 L239.75,287.39 L240.00,286.22 L240.38,284.46 L240.50,283.88 L241.00,281.53 L241.50,279.19 L242.00,276.84 L242.25,275.67 L242.50,274.50 L243.00,274.72 L243.50,274.93 L244.00,275.15 L244.50,275.37 L245.00,275.59 L245.38,275.75 L245.50,275.75 L245.60,275.75 L246.00,275.75 L246.50,275.75 L247.00,275.75 L247.50,275.75 L248.00,275.75 L248.50,275.75 L249.00,274.00 L249.10,273.65 L249.50,272.25 L249.75,271.38 L250.00,270.50 L250.50,268.75 L251.00,267.00 L251.25,266.12 L251.50,265.25 L252.00,263.50 L252.50,261.75 L253.00,260.00 L253.50,258.25 L254.00,260.30 L254.50,262.34 L254.75,263.36 L255.00,264.39 L255.50,266.43 L255.80,267.66 L256.00,268.48 L256.25,269.50 L256.50,268.00 L257.00,265.00 L257.50,262.00 L258.00,259.00 L258.50,256.00 L259.00,253.00 L259.12,252.25 L259.38,250.75 L259.50,251.17 L259.60,251.51 L260.00,252.86 L260.20,253.53 L260.50,254.54 L261.00,256.23 L261.30,257.24 L261.50,257.92 L262.00,259.60 L262.50,261.29 L263.00,262.97 L263.50,264.66 L264.00,266.35 L264.40,267.69 L264.50,268.03 L264.75,268.88 L265.00,269.07 L265.50,269.46 L266.00,269.85 L266.50,270.24 L266.80,270.47 L267.00,270.62 L267.20,270.78 L267.50,271.01 L267.88,271.31 L268.00,271.40 L268.50,271.79 L269.00,272.18 L269.30,272.41 L269.50,272.57 L270.00,272.96 L270.20,273.11 L270.38,273.25 L270.50,274.09 L271.00,277.47 L271.50,280.84 L272.00,284.22 L272.25,285.91 L272.50,287.59 L272.60,288.27 L272.88,290.12 L273.00,289.89 L273.50,288.95 L274.00,288.02 L274.10,287.83 L274.50,287.08 L275.00,286.14 L275.50,285.20 L276.00,284.27 L276.50,283.33 L277.00,282.39 L277.50,281.45 L277.88,280.75 L278.00,280.68 L278.50,280.38 L279.00,280.07 L279.50,279.77 L280.00,279.48 L280.50,279.18 L281.00,278.88 L281.50,276.57 L282.00,274.27 L282.50,271.98 L283.00,269.68 L283.50,267.38 L284.00,265.07 L284.12,264.50 L284.50,264.83 L285.00,265.28 L285.50,265.72 L286.00,266.17 L286.50,266.61 L286.60,266.70 L287.00,267.06 L287.25,267.28 L287.50,267.50 L287.90,267.86 L288.00,267.94 L288.50,268.39 L289.00,268.83 L289.40,269.19 L289.50,269.28 L289.75,269.50 L290.00,270.26 L290.50,271.77 L290.60,272.07 L291.00,273.28 L291.50,274.80 L291.60,274.50 L292.00,274.42 L292.50,274.33 L292.88,274.26 L293.00,274.23 L293.50,274.14 L294.00,274.04 L294.50,273.95 L294.75,273.90 L295.00,274.46 L295.50,275.58 L296.00,276.70 L296.50,277.82 L296.62,278.10 L297.00,278.19 L297.25,277.62 L297.50,278.43 L297.88,279.62 L298.00,280.02 L298.50,281.62 L299.00,283.23 L299.50,284.82 L300.00,286.43 L300.38,287.62 L300.50,287.40 L301.00,286.50 L301.50,285.60 L302.00,284.70 L302.50,283.80 L303.00,282.90 L303.10,282.72 L303.50,282.00 L304.00,278.75 L304.50,275.50 L304.75,273.88 L305.00,272.25 L305.50,269.00 L305.75,267.38 L306.00,265.75 L306.50,265.00 L307.00,264.25 L307.50,263.50 L308.00,262.75 L308.50,262.00 L309.00,262.88 L309.50,263.75 L310.00,264.62 L310.50,265.50 L311.00,266.38 L311.50,267.25 L311.60,267.43 L311.62,267.47 L312.00,268.12 L312.50,269.00 L313.00,269.88 L313.50,270.75 L314.00,270.62 L314.50,270.50 L314.75,270.44 L315.00,270.38 L315.50,270.25 L316.00,270.12 L316.50,270.96 L317.00,271.79 L317.50,272.62 L318.00,273.46 L318.50,274.29 L319.00,275.12 L319.10,275.29 L319.50,275.96 L319.75,276.38 L320.00,275.78 L320.30,275.07 L320.50,274.59 L321.00,273.40 L321.50,272.21 L322.00,271.02 L322.50,269.83 L323.00,268.64 L323.50,267.45 L324.00,266.26 L324.50,265.07 L324.75,264.47 L325.00,263.88 L325.38,265.42 L325.50,265.94 L326.00,268.01 L326.50,270.07 L327.00,272.14 L327.25,273.17 L327.50,274.20 L327.88,275.75 L327.90,275.72 L328.00,275.59 L328.50,274.97 L329.00,274.34 L329.50,273.72 L330.00,273.09 L330.38,272.62 L330.40,272.76 L330.50,273.31 L331.00,276.06 L331.50,278.81 L332.00,281.56 L332.50,284.31 L332.88,286.38 L332.90,286.27 L333.00,285.85 L333.50,283.75 L334.00,281.65 L334.50,279.55 L335.00,277.45 L335.50,275.35 L335.60,274.93 L336.00,273.25 L336.50,272.12 L337.00,270.99 L337.25,270.43 L337.50,269.87 L338.00,268.74 L338.50,267.61 L339.00,266.48 L339.50,265.36 L340.00,264.23 L340.50,263.10 L341.00,261.97 L341.50,260.85 L341.88,260.00 L342.00,260.15 L342.25,260.45 L342.50,260.75 L343.00,261.35 L343.50,261.95 L343.75,262.25 L344.00,262.55 L344.50,263.15 L345.00,263.75 L345.50,263.96 L345.62,264.02 L346.00,264.18 L346.25,264.29 L346.50,264.39 L347.00,264.61 L347.25,264.71 L347.50,264.82 L348.00,265.04 L348.50,265.25 L349.00,265.46 L349.38,265.62 L349.50,265.85 L350.00,266.75 L350.50,267.65 L351.00,268.55 L351.50,269.45 L351.60,269.63 L351.88,270.12 L352.00,270.35 L352.50,271.25 L353.00,270.00 L353.50,268.75 L353.75,268.12 L354.00,267.50 L354.50,266.25 L354.75,265.62 L355.00,265.00 L355.50,261.48 L356.00,257.95 L356.50,254.43 L357.00,250.91 L357.50,247.39 L357.75,245.62 L358.00,246.88 L358.50,249.38 L358.75,250.62 L359.00,251.88 L359.50,254.38 L360.00,256.88 L360.50,259.38 L360.60,259.88 L360.62,260.00 L361.00,259.25 L361.25,258.75 L361.50,258.25 L362.00,257.25 L362.50,256.25 L363.00,255.25 L363.12,255.00 L363.50,255.19 L363.75,255.31 L364.00,255.44 L364.38,255.62 L364.40,255.64 L364.50,255.69 L365.00,255.94 L365.50,256.19 L365.62,256.25 L366.00,252.99 L366.20,251.25 L366.50,248.64 L367.00,244.29 L367.50,239.95 L368.00,235.60 L368.50,231.25 L368.80,232.61 L369.00,233.52 L369.50,235.80 L370.00,227.29 L370.50,201.57 L370.62,195.14 L371.00,175.86 L371.25,163.00 L371.50,150.14 L371.60,145.00 L372.00,141.15 L372.50,136.33 L373.00,131.52 L373.50,126.70 L373.75,124.30 L374.00,121.89 L374.30,119.00 L374.38,123.78 L374.50,131.74 L375.00,163.59 L375.50,195.44 L376.00,227.30 L376.50,255.14 L376.88,253.75 L377.00,254.13 L377.00,254.13 L376.88,253.75 L376.50,255.14 L376.00,256.98 L375.50,258.83 L375.00,260.68 L374.50,262.53 L374.38,262.99 L374.30,263.27 L374.00,264.38 L373.75,262.50 L373.50,260.62 L373.00,256.88 L372.50,253.12 L372.00,249.38 L371.60,246.38 L371.50,245.62 L371.25,243.75 L371.00,242.61 L370.62,240.91 L370.50,240.34 L370.00,238.07 L369.50,235.80 L369.00,233.52 L368.80,232.61 L368.50,231.25 L368.00,235.60 L367.50,239.95 L367.00,244.29 L366.50,248.64 L366.20,251.25 L366.00,252.99 L365.62,256.25 L365.50,256.19 L365.00,255.94 L364.50,255.69 L364.40,255.64 L364.38,255.62 L364.00,255.44 L363.75,255.31 L363.50,255.19 L363.12,255.00 L363.00,255.25 L362.50,256.25 L362.00,257.25 L361.50,258.25 L361.25,258.75 L361.00,259.25 L360.62,260.00 L360.60,259.88 L360.50,259.38 L360.00,256.88 L359.50,254.38 L359.00,251.88 L358.75,250.62 L358.50,249.38 L358.00,246.88 L357.75,245.62 L357.50,247.39 L357.00,250.91 L356.50,254.43 L356.00,257.95 L355.50,261.48 L355.00,265.00 L354.75,265.62 L354.50,266.25 L354.00,267.50 L353.75,268.12 L353.50,268.75 L353.00,270.00 L352.50,271.25 L352.00,270.35 L351.88,270.12 L351.60,269.63 L351.50,269.45 L351.00,268.55 L350.50,267.65 L350.00,266.75 L349.50,265.85 L349.38,265.62 L349.00,265.46 L348.50,265.25 L348.00,265.04 L347.50,264.82 L347.25,264.71 L347.00,264.61 L346.50,264.39 L346.25,264.29 L346.00,264.18 L345.62,264.02 L345.50,263.96 L345.00,263.75 L344.50,263.15 L344.00,262.55 L343.75,262.25 L343.50,261.95 L343.00,261.35 L342.50,260.75 L342.25,260.45 L342.00,260.15 L341.88,260.00 L341.50,260.85 L341.00,261.97 L340.50,263.10 L340.00,264.23 L339.50,265.36 L339.00,266.48 L338.50,267.61 L338.00,268.74 L337.50,269.87 L337.25,270.43 L337.00,270.99 L336.50,272.12 L336.00,273.25 L335.60,274.93 L335.50,275.35 L335.00,277.45 L334.50,279.55 L334.00,281.65 L333.50,283.75 L333.00,285.85 L332.90,286.27 L332.88,286.38 L332.50,284.31 L332.00,281.56 L331.50,278.81 L331.00,276.06 L330.50,273.31 L330.40,272.76 L330.38,272.62 L330.00,273.09 L329.50,273.72 L329.00,274.34 L328.50,274.97 L328.00,275.59 L327.90,275.72 L327.88,275.75 L327.50,274.20 L327.25,273.17 L327.00,272.14 L326.50,270.07 L326.00,268.01 L325.50,265.94 L325.38,265.42 L325.00,263.88 L324.75,264.47 L324.50,265.07 L324.00,266.26 L323.50,267.45 L323.00,268.64 L322.50,269.83 L322.00,271.02 L321.50,272.21 L321.00,273.40 L320.50,274.59 L320.30,275.07 L320.00,275.78 L319.75,276.38 L319.50,275.96 L319.10,275.29 L319.00,275.12 L318.50,274.29 L318.00,273.46 L317.50,272.62 L317.00,271.79 L316.50,270.96 L316.00,270.12 L315.50,270.25 L315.00,270.38 L314.75,270.44 L314.50,270.50 L314.00,270.62 L313.50,270.75 L313.00,269.88 L312.50,269.00 L312.00,268.12 L311.62,267.47 L311.60,267.43 L311.50,267.25 L311.00,266.38 L310.50,265.50 L310.00,264.62 L309.50,263.75 L309.00,262.88 L308.50,262.00 L308.00,262.75 L307.50,263.50 L307.00,264.25 L306.50,265.00 L306.00,265.75 L305.75,267.38 L305.50,269.00 L305.00,272.25 L304.75,273.88 L304.50,275.50 L304.00,278.75 L303.50,282.00 L303.10,282.72 L303.00,282.90 L302.50,283.80 L302.00,284.70 L301.50,285.60 L301.00,286.50 L300.50,287.40 L300.38,287.62 L300.00,286.43 L299.50,284.82 L299.00,283.23 L298.50,281.62 L298.00,280.02 L297.88,279.62 L297.50,278.43 L297.25,277.62 L297.00,278.19 L296.62,279.05 L296.50,279.33 L296.00,280.47 L295.50,281.60 L295.00,282.74 L294.75,283.31 L294.50,283.88 L294.00,282.36 L293.50,280.85 L293.00,279.34 L292.88,278.96 L292.50,277.82 L292.00,276.31 L291.60,275.10 L291.50,274.80 L291.00,273.28 L290.60,272.07 L290.50,271.77 L290.00,270.26 L289.75,269.50 L289.50,269.28 L289.40,269.19 L289.00,268.83 L288.50,268.39 L288.00,267.94 L287.90,267.86 L287.50,267.50 L287.25,267.28 L287.00,267.06 L286.60,266.70 L286.50,266.61 L286.00,266.17 L285.50,265.72 L285.00,265.28 L284.50,264.83 L284.12,264.50 L284.00,265.07 L283.50,267.38 L283.00,269.68 L282.50,271.98 L282.00,274.27 L281.50,276.57 L281.00,278.88 L280.50,279.18 L280.00,279.48 L279.50,279.77 L279.00,280.07 L278.50,280.38 L278.00,280.68 L277.88,280.75 L277.50,281.45 L277.00,282.39 L276.50,283.33 L276.00,284.27 L275.50,285.20 L275.00,286.14 L274.50,287.08 L274.10,287.83 L274.00,288.02 L273.50,288.95 L273.00,289.89 L272.88,290.12 L272.60,288.27 L272.50,287.59 L272.25,285.91 L272.00,284.22 L271.50,280.84 L271.00,277.47 L270.50,274.09 L270.38,273.25 L270.20,273.11 L270.00,272.96 L269.50,272.57 L269.30,272.41 L269.00,272.18 L268.50,271.79 L268.00,271.40 L267.88,271.31 L267.50,271.01 L267.20,270.78 L267.00,270.62 L266.80,270.47 L266.50,270.24 L266.00,269.85 L265.50,269.46 L265.00,269.07 L264.75,268.88 L264.50,268.03 L264.40,267.69 L264.00,266.35 L263.50,264.66 L263.00,262.97 L262.50,261.29 L262.00,259.60 L261.50,257.92 L261.30,257.24 L261.00,256.23 L260.50,254.54 L260.20,253.53 L260.00,252.86 L259.60,251.51 L259.50,251.17 L259.38,250.75 L259.12,252.25 L259.00,253.00 L258.50,256.00 L258.00,259.00 L257.50,262.00 L257.00,265.00 L256.50,268.00 L256.25,269.50 L256.00,268.48 L255.80,267.66 L255.50,266.43 L255.00,264.39 L254.75,263.36 L254.50,262.34 L254.00,260.30 L253.50,258.25 L253.00,260.00 L252.50,261.75 L252.00,263.50 L251.50,265.25 L251.25,266.12 L251.00,267.00 L250.50,268.75 L250.00,270.50 L249.75,271.38 L249.50,272.25 L249.10,273.65 L249.00,274.00 L248.50,275.75 L248.00,275.75 L247.50,275.75 L247.00,275.75 L246.50,275.75 L246.00,275.75 L245.60,275.75 L245.50,275.75 L245.38,275.75 L245.00,275.59 L244.50,275.37 L244.00,275.15 L243.50,274.93 L243.00,274.72 L242.50,274.50 L242.25,275.67 L242.00,276.84 L241.50,279.19 L241.00,281.53 L240.50,283.88 L240.38,284.46 L240.00,286.22 L239.75,287.39 L239.50,288.56 L239.00,290.91 L238.50,293.25 L238.00,293.25 L237.50,293.25 L237.25,293.25 L237.20,293.25 L237.00,293.25 L236.50,293.25 L236.00,293.25 L235.50,293.25 L235.00,293.25 L234.75,293.25 L234.50,292.65 L234.00,291.45 L233.50,290.25 L233.00,289.05 L232.50,287.85 L232.25,287.25 L232.00,286.65 L231.62,285.75 L231.60,285.71 L231.50,285.56 L231.00,284.81 L230.50,284.06 L230.00,283.31 L229.50,282.56 L229.12,282.00 L229.10,281.90 L229.00,281.50 L228.50,279.50 L228.00,277.50 L227.88,277.00 L227.50,275.50 L227.00,273.50 L226.62,272.00 L226.50,271.95 L226.30,271.87 L226.00,271.75 L225.50,271.55 L225.38,271.50 L225.00,271.35 L224.50,271.15 L224.00,270.95 L223.60,270.79 L223.50,270.75 L223.00,269.88 L222.50,269.00 L222.25,268.56 L222.00,268.12 L221.50,267.25 L221.00,266.38 L220.90,266.88 L220.50,268.88 L220.00,271.38 L219.50,273.88 L219.00,276.38 L218.50,278.88 L218.20,280.38 L218.00,281.38 L217.88,282.00 L217.50,283.85 L217.00,286.32 L216.50,288.78 L216.30,289.77 L216.00,291.25 L215.50,292.50 L215.00,293.75 L214.75,294.38 L214.50,295.00 L214.00,296.25 L213.50,297.50 L213.00,298.75 L212.88,299.06 L212.50,300.00 L212.25,300.62 L212.00,299.27 L211.50,296.57 L211.00,293.88 L210.50,291.18 L210.00,288.48 L209.75,287.12 L209.50,285.77 L209.12,283.75 L209.00,283.17 L208.50,280.83 L208.00,278.50 L207.88,277.92 L207.50,276.17 L207.25,275.00 L207.00,274.19 L206.62,272.97 L206.50,272.56 L206.00,270.94 L205.50,269.31 L205.00,267.69 L204.75,266.88 L204.50,266.77 L204.12,266.62 L204.00,266.57 L203.50,266.38 L203.00,266.18 L202.50,265.98 L202.00,265.77 L201.62,265.62 L201.50,263.69 L201.38,261.75 L201.00,255.94 L200.50,248.19 L200.00,240.44 L199.50,232.69 L199.12,226.88 L199.00,226.88 L198.50,226.88 L198.00,226.88 L197.88,226.88 L197.50,226.88 L197.00,226.88 L196.50,226.88 L196.00,226.88 L195.50,229.72 L195.00,232.56 L194.50,235.40 L194.00,238.24 L193.50,241.08 L193.25,242.50 L193.00,241.79 L192.50,240.38 L192.00,238.97 L191.50,237.55 L191.00,236.14 L190.50,234.73 L190.38,234.38 L190.00,237.09 L189.50,240.72 L189.12,243.44 L189.00,244.34 L188.50,247.97 L188.00,251.59 L187.88,252.50 L187.50,254.19 L187.00,256.44 L186.50,258.69 L186.00,260.94 L185.50,263.19 L185.38,263.75 L185.00,263.00 L184.50,262.00 L184.00,261.00 L183.50,260.00 L183.00,259.00 L182.50,258.00 L182.25,257.50 L182.00,257.25 L181.50,256.75 L181.00,256.25 L180.50,255.75 L180.38,255.62 L180.00,255.25 L179.75,255.00 L179.50,255.38 L179.00,256.12 L178.50,256.88 L178.00,257.62 L177.88,257.81 L177.50,258.38 L177.25,258.75 L177.00,257.88 L176.50,256.12 L176.00,254.38 L175.50,252.62 L175.00,250.88 L174.75,250.00 L174.50,248.50 L174.00,245.50 L173.50,242.50 L173.00,239.50 L172.50,236.50 L172.00,233.50 L171.62,231.25 L171.50,231.93 L171.00,234.65 L170.50,237.36 L170.00,240.08 L169.50,242.80 L169.00,245.52 L168.75,246.88 L168.50,246.76 L168.00,246.53 L167.50,246.31 L167.00,246.08 L166.50,245.85 L166.00,245.62 L165.50,246.62 L165.38,246.88 L165.00,247.62 L164.50,248.62 L164.12,249.38 L164.00,249.62 L163.50,250.62 L163.00,249.72 L162.50,248.81 L162.25,248.35 L162.00,247.90 L161.62,247.22 L161.50,246.99 L161.00,246.08 L160.75,245.62 L160.50,246.98 L160.00,249.70 L159.50,252.42 L159.00,255.14 L158.50,257.85 L158.00,260.57 L157.88,261.25 L157.50,259.46 L157.00,257.07 L156.50,254.67 L156.00,252.28 L155.50,249.89 L155.38,249.29 L155.00,247.50 L154.50,253.00 L154.00,258.50 L153.50,264.00 L153.00,269.50 L152.50,275.00 L152.25,274.09 L152.00,273.18 L151.50,271.36 L151.00,269.55 L150.50,267.73 L150.00,265.91 L149.75,265.00 L149.50,265.20 L149.12,265.50 L149.00,265.60 L148.50,266.00 L148.00,266.40 L147.50,266.80 L147.00,267.20 L146.62,267.50 L146.50,267.81 L146.00,269.06 L145.50,270.31 L145.00,271.56 L144.50,272.81 L144.12,273.75 L144.00,273.35 L143.50,271.75 L143.00,270.15 L142.50,268.55 L142.00,266.95 L141.62,265.75 L141.50,265.35 L141.00,263.75 L140.50,264.12 L140.00,264.50 L139.50,264.88 L139.00,265.25 L138.50,265.62 L138.00,268.50 L137.50,271.38 L137.00,274.25 L136.50,277.12 L136.00,280.00 L135.75,281.19 L135.50,282.39 L135.00,284.77 L134.50,287.16 L134.00,289.55 L133.50,291.93 L133.25,293.12 L133.00,292.09 L132.50,290.03 L132.00,287.96 L131.50,285.90 L131.00,283.83 L130.50,281.77 L130.38,281.25 L130.00,280.25 L129.75,279.58 L129.50,278.91 L129.00,277.57 L128.50,276.24 L128.00,274.90 L127.50,273.56 L127.25,272.89 L127.00,272.22 L126.50,270.89 L126.00,269.55 L125.50,268.21 L125.38,267.88 L125.00,266.88 L124.75,268.48 L124.50,270.09 L124.12,272.50 L124.00,273.31 L123.50,276.54 L123.00,279.78 L122.50,283.01 L122.25,284.63 L122.00,286.25 L121.50,283.86 L121.00,281.47 L120.50,279.08 L120.00,276.68 L119.50,274.29 L119.12,272.50 L119.00,271.16 L118.50,265.78 L118.00,260.41 L117.50,255.03 L117.00,249.66 L116.62,245.62 L116.50,245.85 L116.00,246.77 L115.50,247.69 L115.00,248.60 L114.50,249.52 L114.00,250.44 L113.50,251.35 L113.00,252.27 L112.88,252.50 L112.50,252.66 L112.25,252.77 L112.00,252.88 L111.62,253.04 L111.50,253.09 L111.00,253.30 L110.50,253.52 L110.00,253.73 L109.50,253.95 L109.00,254.16 L108.75,254.27 L108.50,254.38 L108.25,255.50 L108.00,256.62 L107.50,258.88 L107.00,261.12 L106.50,263.38 L106.00,265.62 L105.50,266.12 L105.38,266.25 L105.00,266.62 L104.50,267.12 L104.00,267.62 L103.50,268.12 L103.00,268.62 L102.88,268.75 L102.50,270.40 L102.00,272.60 L101.62,274.25 L101.50,274.80 L101.00,277.00 L100.50,279.20 L100.00,281.40 L99.75,282.50 L99.50,284.17 L99.00,287.50 L98.50,290.83 L98.00,294.17 L97.88,295.00 L97.50,297.50 L97.25,296.25 L97.00,295.00 L96.50,292.50 L96.00,290.00 L95.50,287.50 L95.00,285.00 L94.75,283.75 L94.50,283.19 L94.00,282.06 L93.50,280.94 L93.00,279.81 L92.50,278.69 L92.25,278.12 L92.00,278.38 L91.62,278.75 L91.50,278.88 L91.00,279.38 L90.50,279.88 L90.00,280.38 L89.60,280.77 L89.50,280.88 L89.12,281.25 L89.00,281.10 L88.70,280.75 L88.50,280.52 L88.00,279.94 L87.50,279.35 L87.00,278.77 L86.50,278.19 L86.00,277.60 L85.50,277.02 L85.00,276.44 L84.75,276.15 L84.50,275.85 L84.40,275.74 L84.00,275.27 L83.75,274.98 L83.50,274.69 L83.00,274.10 L82.50,273.52 L82.25,273.23 L82.00,272.94 L81.62,272.50 L81.50,272.20 L81.25,271.60 L81.00,271.00 L80.50,269.80 L80.00,268.60Z" fill="#f08080" stroke="none"/>
<path d="M80.00,262.60 L80.50,265.69 L81.00,268.78 L81.25,270.33 L81.50,271.87 L81.62,272.65 L82.00,274.96 L82.25,276.51 L82.50,278.05 L83.00,281.15 L83.50,284.24 L83.75,285.78 L84.00,287.33 L84.40,289.80 L84.50,289.78 L84.75,289.72 L85.00,289.66 L85.50,289.54 L86.00,289.42 L86.50,289.30 L87.00,292.41 L87.50,295.53 L88.00,298.64 L88.50,301.75 L88.70,303.00 L89.00,305.33 L89.12,306.09 L89.50,306.38 L89.60,306.45 L90.00,306.75 L90.50,307.12 L91.00,307.50 L91.50,307.88 L91.62,307.97 L92.00,308.25 L92.25,308.44 L92.50,308.62 L93.00,309.00 L93.50,309.38 L94.00,310.21 L94.50,311.04 L94.75,311.46 L95.00,311.88 L95.50,312.71 L96.00,313.54 L96.50,314.38 L97.00,315.21 L97.25,315.62 L97.50,315.05 L97.88,314.19 L98.00,313.91 L98.50,312.76 L99.00,311.62 L99.50,310.48 L99.75,309.90 L100.00,309.33 L100.50,308.19 L101.00,307.04 L101.50,305.90 L101.62,305.61 L102.00,304.75 L102.50,303.61 L102.88,302.75 L103.00,302.77 L103.50,302.84 L104.00,302.92 L104.50,302.99 L105.00,303.07 L105.38,303.12 L105.50,303.39 L106.00,304.44 L106.50,305.50 L107.00,306.56 L107.50,307.61 L108.00,308.67 L108.25,309.19 L108.50,309.72 L108.75,310.25 L109.00,309.52 L109.50,308.07 L110.00,306.61 L110.50,305.15 L111.00,303.70 L111.50,302.24 L111.62,301.88 L112.00,301.88 L112.25,301.88 L112.50,301.88 L112.88,301.88 L113.00,301.88 L113.50,301.88 L114.00,303.77 L114.50,305.68 L115.00,307.57 L115.50,309.48 L116.00,311.38 L116.50,313.27 L116.62,313.75 L117.00,312.81 L117.50,311.56 L118.00,310.31 L118.50,309.06 L119.00,307.81 L119.12,307.50 L119.50,308.29 L120.00,309.35 L120.50,310.40 L121.00,311.46 L121.50,312.51 L122.00,313.57 L122.25,314.10 L122.50,314.62 L123.00,315.68 L123.50,316.74 L124.00,317.79 L124.12,318.06 L124.50,318.85 L124.75,319.38 L125.00,318.30 L125.38,316.68 L125.50,316.14 L126.00,313.98 L126.50,311.82 L127.00,309.66 L127.25,308.58 L127.50,307.50 L128.00,308.91 L128.50,310.33 L129.00,311.74 L129.50,313.15 L129.75,313.86 L130.00,314.57 L130.38,315.62 L130.50,315.27 L131.00,313.86 L131.50,312.45 L132.00,311.03 L132.50,309.62 L133.00,308.21 L133.25,307.50 L133.50,307.49 L134.00,307.46 L134.50,307.44 L135.00,307.42 L135.50,307.39 L135.75,307.38 L136.00,307.37 L136.50,307.33 L137.00,307.22 L137.50,307.10 L138.00,306.99 L138.50,306.88 L139.00,308.48 L139.50,310.07 L140.00,311.57 L140.50,313.01 L141.00,314.45 L141.50,315.89 L141.62,316.25 L142.00,316.06 L142.50,315.81 L143.00,315.56 L143.50,315.31 L144.00,315.06 L144.12,315.00 L144.50,315.34 L145.00,315.80 L145.50,316.26 L146.00,316.71 L146.50,317.17 L146.62,317.29 L147.00,317.63 L147.50,318.09 L148.00,318.54 L148.50,319.00 L149.00,317.21 L149.12,316.25 L149.50,314.00 L149.75,312.50 L150.00,311.00 L150.50,308.00 L151.00,305.00 L151.50,302.00 L152.00,299.00 L152.25,297.50 L152.50,297.22 L153.00,296.65 L153.50,296.08 L154.00,295.51 L154.50,294.94 L155.00,294.38 L155.38,294.84 L155.50,295.00 L156.00,295.62 L156.50,296.25 L157.00,296.88 L157.50,297.50 L157.88,297.97 L158.00,298.12 L158.50,298.75 L159.00,300.25 L159.50,301.75 L160.00,303.25 L160.50,304.75 L160.75,305.50 L161.00,306.25 L161.50,307.75 L161.62,308.12 L162.00,310.50 L162.25,312.08 L162.50,313.67 L163.00,313.38 L163.50,312.50 L164.00,313.19 L164.12,313.36 L164.50,313.33 L165.00,310.00 L165.38,307.50 L165.50,307.82 L166.00,309.12 L166.50,310.43 L167.00,311.73 L167.50,313.02 L168.00,314.32 L168.50,315.62 L168.75,314.98 L169.00,314.32 L169.50,313.02 L170.00,311.73 L170.50,310.43 L171.00,309.12 L171.50,307.82 L171.62,307.50 L172.00,304.08 L172.50,299.51 L173.00,294.95 L173.50,290.38 L174.00,285.82 L174.50,281.25 L174.75,283.15 L175.00,285.05 L175.50,288.84 L176.00,292.64 L176.50,296.44 L177.00,300.23 L177.25,302.13 L177.50,304.03 L177.88,306.88 L178.00,307.34 L178.50,309.22 L179.00,310.47 L179.50,310.78 L179.75,310.94 L180.00,311.09 L180.38,311.33 L180.50,311.41 L181.00,311.72 L181.50,310.25 L182.00,307.58 L182.25,306.25 L182.50,306.21 L183.00,306.12 L183.50,306.04 L184.00,305.96 L184.50,305.88 L185.00,305.79 L185.38,305.73 L185.50,305.71 L186.00,305.62 L186.50,304.55 L187.00,303.48 L187.50,302.41 L187.88,301.61 L188.00,301.34 L188.50,300.27 L189.00,299.20 L189.12,298.93 L189.50,298.12 L190.00,297.05 L190.38,296.25 L190.50,296.45 L191.00,297.25 L191.50,298.05 L192.00,298.85 L192.50,299.65 L193.00,300.45 L193.25,300.85 L193.50,301.25 L194.00,300.70 L194.50,300.15 L195.00,299.60 L195.50,299.05 L196.00,298.50 L196.50,300.73 L197.00,302.97 L197.50,305.20 L197.88,306.88 L198.00,307.25 L198.50,308.77 L199.00,310.00 L199.12,310.16 L199.50,310.62 L200.00,311.25 L200.50,311.88 L201.00,312.50 L201.38,312.62 L201.50,312.67 L201.62,312.71 L202.00,312.83 L202.50,313.00 L203.00,303.44 L203.50,293.75 L204.00,284.06 L204.12,281.64 L204.50,274.38 L204.75,277.29 L205.00,280.21 L205.50,286.04 L206.00,291.88 L206.50,297.71 L206.62,299.17 L207.00,303.54 L207.25,306.46 L207.50,309.38 L207.88,313.75 L208.00,314.54 L208.50,316.88 L209.00,317.04 L209.12,317.08 L209.50,317.21 L209.75,317.29 L210.00,317.38 L210.50,317.54 L211.00,317.71 L211.50,317.88 L212.00,318.04 L212.25,318.12 L212.50,318.38 L212.88,318.75 L213.00,318.88 L213.50,319.38 L214.00,319.62 L214.50,317.79 L214.75,316.88 L215.00,316.41 L215.50,315.48 L216.00,314.56 L216.30,314.00 L216.50,311.68 L217.00,305.89 L217.50,300.11 L217.88,295.76 L218.00,294.32 L218.20,292.00 L218.50,287.22 L219.00,279.26 L219.50,271.30 L220.00,263.33 L220.50,255.37 L220.90,249.00 L221.00,246.44 L221.50,233.67 L222.00,220.89 L222.25,214.50 L222.50,208.11 L223.00,195.33 L223.50,182.56 L223.60,180.00 L224.00,183.56 L224.50,188.00 L225.00,192.44 L225.38,195.78 L225.50,196.89 L226.00,201.33 L226.30,204.00 L226.50,210.86 L226.62,215.14 L227.00,228.00 L227.50,245.14 L227.88,258.00 L228.00,262.29 L228.50,279.43 L229.00,296.57 L229.10,300.00 L229.12,300.24 L229.50,303.80 L230.00,308.55 L230.50,310.50 L231.00,310.00 L231.50,309.50 L231.60,309.40 L231.62,309.38 L232.00,309.75 L232.25,310.00 L232.50,310.25 L233.00,310.16 L233.50,305.31 L234.00,300.45 L234.50,295.60 L234.75,297.12 L235.00,298.64 L235.50,301.67 L236.00,304.71 L236.50,307.75 L237.00,310.79 L237.20,312.00 L237.25,312.25 L237.50,313.53 L238.00,314.24 L238.50,313.48 L239.00,312.72 L239.50,311.96 L239.75,311.58 L240.00,311.20 L240.38,310.62 L240.50,310.59 L241.00,310.47 L241.50,310.34 L242.00,310.22 L242.25,310.16 L242.50,310.09 L243.00,309.97 L243.50,309.84 L244.00,309.72 L244.50,309.59 L245.00,309.47 L245.38,309.38 L245.50,309.45 L245.60,309.51 L246.00,309.75 L246.50,310.05 L247.00,310.35 L247.50,310.65 L248.00,310.95 L248.50,311.25 L249.00,310.00 L249.10,309.75 L249.50,308.75 L249.75,308.12 L250.00,307.50 L250.50,306.25 L251.00,305.00 L251.25,304.81 L251.50,304.62 L252.00,304.25 L252.50,303.88 L253.00,303.50 L253.50,303.12 L254.00,303.62 L254.50,304.12 L254.75,304.38 L255.00,304.62 L255.50,305.12 L255.80,305.43 L256.00,305.62 L256.25,305.43 L256.50,305.23 L257.00,304.82 L257.50,304.43 L258.00,304.02 L258.50,303.62 L259.00,303.23 L259.12,303.12 L259.38,303.01 L259.50,302.96 L259.60,302.91 L260.00,302.74 L260.20,302.65 L260.50,302.51 L261.00,302.29 L261.30,302.16 L261.50,302.07 L262.00,301.85 L262.50,301.62 L263.00,301.40 L263.50,301.18 L264.00,300.96 L264.40,300.78 L264.50,300.74 L264.75,300.62 L265.00,300.88 L265.50,301.38 L266.00,301.88 L266.50,302.38 L266.80,302.68 L267.00,302.88 L267.20,303.07 L267.50,303.38 L267.88,303.75 L268.00,303.88 L268.50,304.38 L269.00,304.88 L269.30,305.18 L269.50,305.38 L270.00,305.88 L270.20,306.07 L270.38,306.25 L270.50,306.30 L271.00,306.50 L271.50,306.70 L272.00,306.90 L272.25,307.00 L272.50,307.10 L272.60,307.14 L272.88,307.25 L273.00,307.30 L273.50,307.50 L274.00,307.56 L274.10,307.57 L274.50,307.62 L275.00,307.69 L275.50,307.75 L276.00,307.81 L276.50,307.88 L277.00,307.94 L277.50,308.00 L277.88,308.05 L278.00,308.06 L278.50,308.12 L279.00,307.38 L279.50,306.62 L280.00,305.88 L280.50,305.12 L281.00,304.38 L281.50,304.07 L282.00,303.77 L282.50,301.70 L283.00,299.35 L283.50,297.00 L284.00,295.08 L284.12,294.60 L284.50,293.16 L285.00,291.24 L285.50,289.32 L286.00,287.40 L286.50,285.48 L286.60,285.10 L287.00,289.68 L287.25,292.55 L287.50,295.42 L287.90,300.00 L288.00,300.05 L288.50,300.25 L289.00,300.45 L289.40,300.61 L289.50,300.65 L289.75,300.75 L290.00,300.85 L290.50,292.60 L290.60,290.00 L291.00,283.80 L291.50,276.05 L291.60,274.50 L292.00,274.42 L292.50,274.33 L292.88,274.26 L293.00,274.23 L293.50,274.14 L294.00,274.04 L294.50,273.95 L294.75,273.90 L295.00,274.46 L295.50,275.58 L296.00,276.70 L296.50,277.82 L296.62,278.10 L297.00,278.94 L297.25,279.50 L297.50,281.62 L297.88,284.79 L298.00,285.85 L298.50,290.08 L299.00,294.32 L299.50,298.55 L300.00,302.78 L300.38,305.96 L300.50,307.02 L301.00,311.25 L301.50,311.82 L302.00,311.52 L302.50,311.23 L303.00,310.93 L303.10,310.87 L303.50,310.62 L304.00,309.46 L304.50,305.68 L304.75,303.80 L305.00,301.91 L305.50,298.14 L305.75,296.25 L306.00,297.39 L306.50,299.66 L307.00,301.93 L307.50,304.20 L308.00,306.48 L308.50,308.75 L309.00,308.85 L309.50,308.60 L310.00,307.90 L310.50,307.20 L311.00,306.50 L311.50,305.80 L311.60,305.66 L311.62,305.62 L312.00,305.48 L312.50,305.27 L313.00,305.07 L313.50,304.88 L314.00,304.68 L314.50,304.48 L314.75,304.38 L315.00,304.19 L315.50,303.81 L316.00,303.44 L316.50,303.06 L317.00,302.69 L317.50,302.31 L318.00,301.94 L318.50,301.56 L319.00,301.19 L319.10,301.11 L319.50,300.81 L319.75,298.83 L320.00,295.73 L320.30,292.00 L320.50,290.09 L321.00,285.31 L321.50,280.53 L322.00,275.75 L322.50,277.11 L323.00,278.48 L323.50,279.84 L324.00,281.20 L324.50,282.57 L324.75,283.25 L325.00,284.42 L325.38,286.18 L325.50,286.76 L326.00,289.10 L326.50,291.44 L327.00,293.79 L327.25,294.96 L327.50,296.13 L327.88,297.88 L327.90,298.00 L328.00,298.18 L328.50,299.08 L329.00,299.98 L329.50,300.88 L330.00,301.78 L330.38,302.46 L330.40,302.50 L330.50,302.35 L331.00,301.60 L331.50,300.85 L332.00,300.10 L332.50,299.35 L332.88,298.79 L332.90,298.75 L333.00,298.52 L333.50,297.36 L334.00,296.20 L334.50,295.05 L335.00,293.89 L335.50,292.73 L335.60,292.50 L336.00,293.71 L336.50,295.22 L337.00,296.72 L337.25,297.48 L337.50,298.23 L338.00,299.74 L338.50,301.25 L339.00,302.25 L339.50,302.31 L340.00,302.38 L340.50,302.44 L341.00,302.50 L341.50,301.62 L341.88,300.97 L342.00,300.75 L342.25,300.31 L342.50,299.88 L343.00,299.00 L343.50,298.12 L343.75,297.76 L344.00,297.39 L344.50,296.65 L345.00,295.92 L345.50,295.18 L345.62,295.00 L346.00,294.94 L346.25,294.90 L346.50,294.85 L347.00,294.77 L347.25,294.73 L347.50,294.69 L348.00,294.60 L348.50,294.52 L349.00,294.44 L349.38,294.38 L349.50,294.28 L350.00,293.91 L350.50,293.53 L351.00,293.16 L351.50,292.78 L351.60,292.71 L351.88,292.50 L352.00,292.70 L352.50,293.50 L353.00,294.30 L353.50,295.10 L353.75,295.50 L354.00,295.90 L354.50,296.70 L354.75,297.10 L355.00,297.50 L355.50,296.95 L356.00,296.40 L356.50,295.85 L357.00,295.30 L357.50,294.75 L357.75,294.95 L358.00,295.15 L358.50,295.55 L358.75,295.75 L359.00,295.95 L359.50,296.35 L360.00,296.75 L360.50,297.15 L360.60,297.23 L360.62,297.25 L361.00,297.55 L361.25,297.75 L361.50,297.38 L362.00,296.64 L362.50,295.90 L363.00,295.16 L363.12,294.98 L363.50,294.42 L363.75,294.05 L364.00,293.68 L364.38,293.12 L364.40,293.08 L364.50,292.90 L365.00,292.00 L365.50,291.10 L365.62,290.88 L366.00,290.20 L366.20,289.84 L366.50,289.30 L367.00,288.40 L367.50,287.50 L368.00,286.96 L368.50,286.43 L368.80,286.11 L369.00,278.71 L369.50,253.00 L370.00,227.29 L370.50,201.57 L370.62,195.14 L371.00,175.86 L371.25,163.00 L371.50,150.14 L371.60,145.00 L372.00,141.15 L372.50,136.33 L373.00,131.52 L373.50,126.70 L373.75,124.30 L374.00,121.89 L374.30,119.00 L374.38,123.78 L374.50,131.74 L375.00,163.59 L375.50,195.44 L376.00,227.30 L376.50,259.15 L376.88,283.04 L377.00,291.00 L377.00,291.00 L376.88,283.04 L376.50,259.15 L376.00,227.30 L375.50,195.44 L375.00,163.59 L374.50,131.74 L374.38,123.78 L374.30,119.00 L374.00,121.89 L373.75,124.30 L373.50,126.70 L373.00,131.52 L372.50,136.33 L372.00,141.15 L371.60,145.00 L371.50,150.14 L371.25,163.00 L371.00,175.86 L370.62,195.14 L370.50,201.57 L370.00,227.29 L369.50,253.00 L369.00,278.71 L368.80,289.00 L368.50,289.46 L368.00,290.23 L367.50,291.00 L367.00,291.77 L366.50,292.54 L366.20,293.00 L366.00,293.50 L365.62,294.44 L365.50,294.75 L365.00,296.00 L364.50,297.25 L364.40,297.50 L364.38,297.62 L364.00,299.34 L363.75,300.49 L363.50,301.64 L363.12,303.37 L363.00,303.95 L362.50,306.25 L362.00,306.91 L361.50,307.57 L361.25,307.89 L361.00,308.22 L360.62,308.72 L360.60,308.75 L360.50,309.22 L360.00,311.59 L359.50,313.95 L359.00,316.32 L358.75,317.50 L358.50,317.54 L358.00,317.61 L357.75,317.65 L357.50,317.69 L357.00,317.76 L356.50,317.84 L356.00,317.91 L355.50,317.99 L355.00,318.06 L354.75,318.10 L354.50,317.46 L354.00,316.17 L353.75,315.53 L353.50,314.89 L353.00,313.60 L352.50,312.31 L352.00,311.03 L351.88,310.71 L351.60,310.00 L351.50,310.23 L351.00,311.38 L350.50,312.53 L350.00,313.68 L349.50,314.83 L349.38,315.11 L349.00,315.98 L348.50,317.13 L348.00,318.28 L347.50,319.43 L347.25,320.00 L347.00,320.79 L346.50,322.36 L346.25,323.14 L346.00,323.93 L345.62,325.11 L345.50,325.50 L345.00,327.07 L344.50,328.64 L344.00,330.21 L343.75,331.00 L343.50,329.09 L343.00,325.27 L342.50,321.45 L342.25,319.55 L342.00,317.64 L341.88,316.68 L341.50,313.82 L341.00,310.00 L340.50,308.25 L340.00,306.50 L339.50,304.75 L339.00,303.00 L338.50,301.25 L338.00,299.74 L337.50,298.23 L337.25,297.48 L337.00,296.72 L336.50,295.22 L336.00,293.71 L335.60,292.50 L335.50,292.73 L335.00,293.89 L334.50,295.05 L334.00,296.20 L333.50,297.36 L333.00,298.52 L332.90,298.75 L332.88,298.79 L332.50,299.35 L332.00,300.10 L331.50,300.85 L331.00,301.60 L330.50,302.35 L330.40,302.50 L330.38,302.46 L330.00,301.78 L329.50,300.88 L329.00,299.98 L328.50,299.08 L328.00,298.18 L327.90,298.00 L327.88,297.88 L327.50,296.13 L327.25,294.96 L327.00,293.79 L326.50,291.44 L326.00,289.10 L325.50,286.76 L325.38,286.18 L325.00,284.42 L324.75,283.25 L324.50,282.57 L324.00,281.20 L323.50,279.84 L323.00,278.48 L322.50,277.11 L322.00,275.75 L321.50,280.53 L321.00,285.31 L320.50,290.09 L320.30,292.00 L320.00,295.73 L319.75,298.83 L319.50,301.93 L319.10,306.90 L319.00,306.87 L318.50,306.72 L318.00,306.57 L317.50,306.42 L317.00,306.27 L316.50,306.12 L316.00,305.97 L315.50,305.82 L315.00,305.67 L314.75,305.60 L314.50,305.90 L314.00,306.50 L313.50,307.11 L313.00,307.71 L312.50,308.31 L312.00,308.92 L311.62,309.37 L311.60,309.40 L311.50,309.38 L311.00,309.27 L310.50,309.17 L310.00,309.06 L309.50,308.96 L309.00,308.85 L308.50,308.75 L308.00,306.48 L307.50,304.20 L307.00,301.93 L306.50,299.66 L306.00,297.39 L305.75,296.25 L305.50,298.14 L305.00,301.91 L304.75,303.80 L304.50,305.68 L304.00,309.46 L303.50,313.23 L303.10,316.25 L303.00,316.01 L302.50,314.82 L302.00,313.63 L301.50,312.44 L301.00,311.25 L300.50,307.02 L300.38,305.96 L300.00,302.78 L299.50,298.55 L299.00,294.32 L298.50,290.08 L298.00,285.85 L297.88,284.79 L297.50,281.62 L297.25,279.50 L297.00,278.94 L296.62,278.10 L296.50,277.82 L296.00,276.70 L295.50,275.58 L295.00,274.46 L294.75,273.90 L294.50,273.95 L294.00,274.04 L293.50,274.14 L293.00,274.23 L292.88,274.26 L292.50,274.33 L292.00,274.42 L291.60,274.50 L291.50,276.05 L291.00,283.80 L290.60,290.00 L290.50,292.60 L290.00,305.62 L289.75,312.14 L289.50,318.65 L289.40,321.25 L289.00,315.58 L288.50,308.50 L288.00,301.42 L287.90,300.00 L287.50,295.42 L287.25,292.55 L287.00,289.68 L286.60,285.10 L286.50,285.48 L286.00,287.40 L285.50,289.32 L285.00,291.24 L284.50,293.16 L284.12,294.60 L284.00,295.08 L283.50,297.00 L283.00,299.35 L282.50,301.70 L282.00,304.05 L281.50,306.40 L281.00,308.75 L280.50,310.62 L280.00,312.49 L279.50,314.36 L279.00,316.23 L278.50,318.10 L278.00,317.40 L277.88,317.22 L277.50,316.69 L277.00,315.99 L276.50,315.28 L276.00,314.58 L275.50,313.87 L275.00,313.17 L274.50,312.46 L274.10,311.90 L274.00,311.61 L273.50,310.14 L273.00,308.67 L272.88,308.31 L272.60,307.50 L272.50,307.73 L272.25,308.32 L272.00,308.91 L271.50,310.08 L271.00,311.25 L270.50,312.97 L270.38,313.40 L270.20,314.00 L270.00,315.45 L269.50,319.06 L269.30,320.51 L269.00,322.68 L268.50,326.30 L268.00,329.92 L267.88,330.82 L267.50,333.54 L267.20,335.71 L267.00,337.15 L266.80,338.60 L266.50,338.80 L266.00,339.13 L265.50,339.47 L265.00,339.80 L264.75,339.97 L264.50,340.13 L264.40,340.20 L264.00,339.68 L263.50,339.04 L263.00,338.39 L262.50,337.75 L262.00,337.10 L261.50,336.45 L261.30,336.20 L261.00,335.81 L260.50,335.16 L260.20,334.77 L260.00,334.52 L259.60,334.00 L259.50,334.20 L259.38,334.44 L259.12,334.94 L259.00,335.18 L258.50,336.17 L258.00,337.16 L257.50,338.14 L257.00,339.13 L256.50,340.12 L256.25,340.61 L256.00,341.11 L255.80,341.50 L255.50,339.82 L255.00,337.02 L254.75,335.62 L254.50,334.21 L254.00,331.41 L253.50,328.61 L253.00,325.81 L252.50,323.01 L252.00,320.20 L251.50,317.40 L251.25,316.00 L251.00,316.17 L250.50,316.52 L250.00,316.87 L249.75,317.05 L249.50,317.22 L249.10,317.50 L249.00,318.52 L248.50,323.60 L248.00,328.69 L247.50,333.77 L247.00,338.86 L246.50,343.95 L246.00,349.03 L245.60,353.10 L245.50,352.02 L245.38,350.67 L245.00,346.62 L244.50,341.21 L244.00,335.81 L243.50,330.41 L243.00,325.00 L242.50,319.60 L242.25,316.90 L242.00,317.71 L241.50,319.33 L241.00,320.95 L240.50,322.57 L240.38,322.98 L240.00,324.19 L239.75,325.00 L239.50,323.73 L239.00,321.18 L238.50,318.63 L238.00,316.08 L237.50,313.53 L237.25,312.25 L237.20,312.00 L237.00,310.79 L236.50,307.75 L236.00,304.71 L235.50,301.67 L235.00,298.64 L234.75,297.12 L234.50,295.60 L234.00,300.45 L233.50,305.31 L233.00,310.16 L232.50,315.01 L232.25,317.44 L232.00,319.87 L231.62,323.51 L231.60,323.75 L231.50,322.80 L231.00,318.05 L230.50,313.30 L230.00,308.55 L229.50,303.80 L229.12,300.24 L229.10,300.00 L229.00,296.57 L228.50,279.43 L228.00,262.29 L227.88,258.00 L227.50,245.14 L227.00,228.00 L226.62,215.14 L226.50,210.86 L226.30,204.00 L226.00,201.33 L225.50,196.89 L225.38,195.78 L225.00,192.44 L224.50,188.00 L224.00,183.56 L223.60,180.00 L223.50,182.56 L223.00,195.33 L222.50,208.11 L222.25,214.50 L222.00,220.89 L221.50,233.67 L221.00,246.44 L220.90,249.00 L220.50,255.37 L220.00,263.33 L219.50,271.30 L219.00,279.26 L218.50,287.22 L218.20,292.00 L218.00,294.32 L217.88,295.76 L217.50,300.11 L217.00,305.89 L216.50,311.68 L216.30,314.00 L216.00,314.56 L215.50,315.48 L215.00,316.41 L214.75,316.88 L214.50,317.79 L214.00,319.62 L213.50,321.46 L213.00,323.29 L212.88,323.75 L212.50,323.98 L212.25,324.12 L212.00,324.27 L211.50,324.57 L211.00,324.88 L210.50,325.18 L210.00,325.48 L209.75,325.62 L209.50,324.04 L209.12,321.67 L209.00,320.88 L208.50,317.71 L208.00,314.54 L207.88,313.75 L207.50,309.38 L207.25,306.46 L207.00,303.54 L206.62,299.17 L206.50,297.71 L206.00,291.88 L205.50,286.04 L205.00,280.21 L204.75,277.29 L204.50,274.38 L204.12,281.64 L204.00,284.06 L203.50,293.75 L203.00,303.44 L202.50,313.12 L202.00,315.07 L201.62,316.53 L201.50,317.01 L201.38,317.50 L201.00,316.36 L200.50,314.84 L200.00,313.33 L199.50,311.81 L199.12,310.67 L199.00,310.29 L198.50,308.77 L198.00,307.25 L197.88,306.88 L197.50,305.20 L197.00,302.97 L196.50,300.73 L196.00,298.50 L195.50,299.05 L195.00,299.60 L194.50,300.15 L194.00,300.70 L193.50,301.25 L193.25,300.85 L193.00,300.45 L192.50,299.65 L192.00,298.85 L191.50,298.05 L191.00,297.25 L190.50,296.45 L190.38,296.25 L190.00,297.05 L189.50,298.12 L189.12,298.93 L189.00,299.20 L188.50,300.27 L188.00,301.34 L187.88,301.61 L187.50,302.41 L187.00,303.48 L186.50,304.55 L186.00,305.62 L185.50,305.71 L185.38,305.73 L185.00,305.79 L184.50,305.88 L184.00,305.96 L183.50,306.04 L183.00,306.12 L182.50,306.21 L182.25,306.25 L182.00,307.58 L181.50,310.25 L181.00,312.92 L180.50,315.58 L180.38,316.25 L180.00,314.84 L179.75,313.91 L179.50,312.97 L179.00,311.09 L178.50,309.22 L178.00,307.34 L177.88,306.88 L177.50,304.03 L177.25,302.13 L177.00,300.23 L176.50,296.44 L176.00,292.64 L175.50,288.84 L175.00,285.05 L174.75,283.15 L174.50,281.25 L174.00,285.82 L173.50,290.38 L173.00,294.95 L172.50,299.51 L172.00,304.08 L171.62,307.50 L171.50,307.82 L171.00,309.12 L170.50,310.43 L170.00,311.73 L169.50,313.02 L169.00,314.32 L168.75,314.98 L168.50,315.62 L168.00,314.32 L167.50,313.02 L167.00,311.73 L166.50,310.43 L166.00,309.12 L165.50,307.82 L165.38,307.50 L165.00,310.00 L164.50,313.33 L164.12,315.83 L164.00,316.67 L163.50,320.00 L163.00,316.83 L162.50,313.67 L162.25,312.08 L162.00,310.50 L161.62,308.12 L161.50,307.75 L161.00,306.25 L160.75,305.50 L160.50,304.75 L160.00,303.25 L159.50,301.75 L159.00,300.25 L158.50,298.75 L158.00,298.12 L157.88,297.97 L157.50,297.50 L157.00,296.88 L156.50,296.25 L156.00,295.62 L155.50,295.00 L155.38,294.84 L155.00,294.38 L154.50,294.94 L154.00,295.51 L153.50,296.08 L153.00,296.65 L152.50,297.22 L152.25,297.50 L152.00,299.00 L151.50,302.00 L151.00,305.00 L150.50,308.00 L150.00,311.00 L149.75,312.50 L149.50,314.00 L149.12,316.25 L149.00,317.21 L148.50,321.03 L148.00,324.85 L147.50,328.68 L147.00,332.50 L146.62,333.07 L146.50,333.26 L146.00,334.02 L145.50,334.78 L145.00,335.54 L144.50,336.30 L144.12,336.88 L144.00,335.88 L143.50,331.88 L143.00,327.88 L142.50,323.88 L142.00,319.88 L141.62,316.88 L141.50,316.48 L141.00,314.88 L140.50,313.27 L140.00,311.68 L139.50,310.07 L139.00,308.48 L138.50,306.88 L138.00,306.99 L137.50,307.10 L137.00,307.22 L136.50,307.33 L136.00,307.44 L135.75,307.50 L135.50,307.92 L135.00,308.75 L134.50,309.58 L134.00,310.42 L133.50,311.25 L133.25,312.35 L133.00,313.45 L132.50,315.65 L132.00,317.85 L131.50,320.05 L131.00,322.25 L130.50,324.45 L130.38,325.00 L130.00,325.45 L129.75,325.75 L129.50,326.05 L129.00,326.65 L128.50,327.25 L128.00,327.85 L127.50,328.45 L127.25,328.75 L127.00,328.38 L126.50,327.62 L126.00,326.88 L125.50,326.12 L125.38,325.94 L125.00,325.38 L124.75,325.00 L124.50,325.75 L124.12,326.88 L124.00,327.25 L123.50,328.75 L123.00,330.25 L122.50,331.75 L122.25,332.50 L122.00,331.50 L121.50,329.50 L121.00,327.50 L120.50,325.50 L120.00,323.50 L119.50,321.50 L119.12,320.00 L119.00,320.06 L118.50,320.28 L118.00,320.51 L117.50,320.74 L117.00,320.97 L116.62,321.14 L116.50,321.19 L116.00,321.42 L115.50,321.65 L115.00,321.88 L114.50,322.10 L114.00,322.33 L113.50,322.56 L113.00,322.78 L112.88,322.84 L112.50,323.01 L112.25,323.12 L112.00,323.35 L111.62,323.68 L111.50,323.79 L111.00,324.24 L110.50,324.69 L110.00,325.13 L109.50,325.58 L109.00,326.03 L108.75,326.25 L108.50,325.82 L108.25,325.40 L108.00,324.97 L107.50,324.12 L107.00,323.27 L106.50,322.42 L106.00,321.57 L105.50,320.72 L105.38,320.51 L105.00,319.87 L104.50,319.02 L104.00,318.16 L103.50,317.31 L103.00,316.46 L102.88,316.25 L102.50,318.21 L102.00,320.82 L101.62,322.77 L101.50,323.42 L101.00,326.03 L100.50,328.64 L100.00,331.25 L99.75,330.12 L99.50,329.00 L99.00,326.75 L98.50,324.50 L98.00,322.25 L97.88,321.69 L97.50,320.00 L97.25,320.91 L97.00,321.82 L96.50,323.64 L96.00,325.45 L95.50,327.27 L95.00,329.09 L94.75,330.00 L94.50,329.95 L94.00,329.85 L93.50,329.75 L93.00,329.65 L92.50,329.55 L92.25,329.50 L92.00,329.45 L91.62,329.38 L91.50,328.18 L91.00,323.40 L90.50,318.61 L90.00,313.83 L89.60,310.00 L89.50,309.22 L89.12,306.31 L89.00,305.33 L88.70,303.00 L88.50,301.75 L88.00,298.64 L87.50,295.53 L87.00,292.41 L86.50,289.30 L86.00,289.42 L85.50,289.54 L85.00,289.66 L84.75,289.72 L84.50,289.78 L84.40,289.80 L84.00,287.33 L83.75,285.78 L83.50,284.24 L83.00,281.15 L82.50,278.05 L82.25,276.51 L82.00,274.96 L81.62,272.65 L81.50,271.87 L81.25,270.33 L81.00,268.78 L80.50,265.69 L80.00,262.60Z" fill="#4682b4" fill-opacity="0.6" stroke="none"/>
<path d="M80.00,262.60 L80.50,265.69 L81.00,268.78 L81.25,270.33 L81.50,271.87 L81.62,272.65 L82.00,274.96 L82.25,276.51 L82.50,278.05 L83.00,281.15 L83.50,284.24 L83.75,285.78 L84.00,287.33 L84.40,289.80 L84.50,289.78 L84.75,289.72 L85.00,289.66 L85.50,289.54 L86.00,289.42 L86.50,289.30 L87.00,292.41 L87.50,295.53 L88.00,298.64 L88.50,301.75 L88.70,303.00 L89.00,305.33 L89.12,306.31 L89.50,309.22 L89.60,310.00 L90.00,313.83 L90.50,318.61 L91.00,323.40 L91.50,325.00 L91.62,325.00 L92.00,325.00 L92.25,325.00 L92.50,325.62 L93.00,326.88 L93.50,328.12 L94.00,329.38 L94.50,329.95 L94.75,330.00 L95.00,329.09 L95.50,327.27 L96.00,325.45 L96.50,323.64 L97.00,321.82 L97.25,320.91 L97.50,320.00 L97.88,321.69 L98.00,322.25 L98.50,324.50 L99.00,326.69 L99.50,326.60 L99.75,326.56 L100.00,326.52 L100.50,326.44 L101.00,326.03 L101.50,323.42 L101.62,322.77 L102.00,320.82 L102.50,318.21 L102.88,316.25 L103.00,316.46 L103.50,317.31 L104.00,318.16 L104.50,319.02 L105.00,319.87 L105.38,320.51 L105.50,320.72 L106.00,321.57 L106.50,322.42 L107.00,323.27 L107.50,324.12 L108.00,324.97 L108.25,325.40 L108.50,325.82 L108.75,326.25 L109.00,326.03 L109.50,325.58 L110.00,325.13 L110.50,324.69 L111.00,324.24 L111.50,323.79 L111.62,323.68 L112.00,323.35 L112.25,323.12 L112.50,323.01 L112.88,322.84 L113.00,322.78 L113.50,322.56 L114.00,322.33 L114.50,322.10 L115.00,321.88 L115.50,321.65 L116.00,321.42 L116.50,321.19 L116.62,321.14 L117.00,320.97 L117.50,320.74 L118.00,320.51 L118.50,320.28 L119.00,320.06 L119.12,320.00 L119.50,321.50 L120.00,323.50 L120.50,325.50 L121.00,327.50 L121.50,329.50 L122.00,331.50 L122.25,332.50 L122.50,331.75 L123.00,330.25 L123.50,328.75 L124.00,327.25 L124.12,326.88 L124.50,325.75 L124.75,325.00 L125.00,325.38 L125.38,325.94 L125.50,326.12 L126.00,326.88 L126.50,327.62 L127.00,328.38 L127.25,328.75 L127.50,328.45 L128.00,327.85 L128.50,327.25 L129.00,326.65 L129.50,326.05 L129.75,325.75 L130.00,325.45 L130.38,325.00 L130.50,324.45 L131.00,322.25 L131.50,320.05 L132.00,317.85 L132.50,315.65 L133.00,313.45 L133.25,312.35 L133.50,311.25 L134.00,310.42 L134.50,309.58 L135.00,308.75 L135.50,307.92 L135.75,307.50 L136.00,307.44 L136.50,307.33 L137.00,307.22 L137.50,307.10 L138.00,306.99 L138.50,306.88 L139.00,308.48 L139.50,310.07 L140.00,311.68 L140.50,313.27 L141.00,314.88 L141.50,316.48 L141.62,316.88 L142.00,319.88 L142.50,323.88 L143.00,327.88 L143.50,330.31 L144.00,330.50 L144.12,330.55 L144.50,330.69 L145.00,330.88 L145.50,331.06 L146.00,331.25 L146.50,331.62 L146.62,331.72 L147.00,332.00 L147.50,328.68 L148.00,324.85 L148.50,321.03 L149.00,317.21 L149.12,316.25 L149.50,314.00 L149.75,312.50 L150.00,311.00 L150.50,308.00 L151.00,305.00 L151.50,302.00 L152.00,299.00 L152.25,297.50 L152.50,297.22 L153.00,296.65 L153.50,296.08 L154.00,295.51 L154.50,294.94 L155.00,294.38 L155.38,294.84 L155.50,295.00 L156.00,295.62 L156.50,296.25 L157.00,296.88 L157.50,297.50 L157.88,297.97 L158.00,298.12 L158.50,298.75 L159.00,300.25 L159.50,301.75 L160.00,303.25 L160.50,304.75 L160.75,305.50 L161.00,306.25 L161.50,307.75 L161.62,308.12 L162.00,310.50 L162.25,312.08 L162.50,313.67 L163.00,316.83 L163.50,320.00 L164.00,316.67 L164.12,315.83 L164.50,313.33 L165.00,310.00 L165.38,307.50 L165.50,307.82 L166.00,309.12 L166.50,310.43 L167.00,311.73 L167.50,313.02 L168.00,314.32 L168.50,315.62 L168.75,314.98 L169.00,314.32 L169.50,313.02 L170.00,311.73 L170.50,310.43 L171.00,309.12 L171.50,307.82 L171.62,307.50 L172.00,304.08 L172.50,299.51 L173.00,294.95 L173.50,290.38 L174.00,285.82 L174.50,281.25 L174.75,283.15 L175.00,285.05 L175.50,288.84 L176.00,292.64 L176.50,296.44 L177.00,300.23 L177.25,302.13 L177.50,304.03 L177.88,306.88 L178.00,307.34 L178.50,309.22 L179.00,311.09 L179.50,312.97 L179.75,313.91 L180.00,314.84 L180.38,316.25 L180.50,315.58 L181.00,312.92 L181.50,310.25 L182.00,307.58 L182.25,306.25 L182.50,306.21 L183.00,306.12 L183.50,306.04 L184.00,305.96 L184.50,305.88 L185.00,305.79 L185.38,305.73 L185.50,305.71 L186.00,305.62 L186.50,304.55 L187.00,303.48 L187.50,302.41 L187.88,301.61 L188.00,301.34 L188.50,300.27 L189.00,299.20 L189.12,298.93 L189.50,298.12 L190.00,297.05 L190.38,296.25 L190.50,296.45 L191.00,297.25 L191.50,298.05 L192.00,298.85 L192.50,299.65 L193.00,300.45 L193.25,300.85 L193.50,301.25 L194.00,300.70 L194.50,300.15 L195.00,299.60 L195.50,299.05 L196.00,298.50 L196.50,300.73 L197.00,302.97 L197.50,305.20 L197.88,306.88 L198.00,307.25 L198.50,308.77 L199.00,310.29 L199.12,310.67 L199.50,311.81 L200.00,313.33 L200.50,314.84 L201.00,316.36 L201.38,317.50 L201.50,317.01 L201.62,316.53 L202.00,315.07 L202.50,313.12 L203.00,303.44 L203.50,293.75 L204.00,284.06 L204.12,281.64 L204.50,274.38 L204.75,277.29 L205.00,280.21 L205.50,286.04 L206.00,291.88 L206.50,297.71 L206.62,299.17 L207.00,303.54 L207.25,306.46 L207.50,309.38 L207.88,313.75 L208.00,314.54 L208.50,317.71 L209.00,320.88 L209.12,321.67 L209.50,324.04 L209.75,325.62 L210.00,325.48 L210.50,325.18 L211.00,324.88 L211.50,324.57 L212.00,324.27 L212.25,324.12 L212.50,323.98 L212.88,323.75 L213.00,323.29 L213.50,321.46 L214.00,319.62 L214.50,317.79 L214.75,316.88 L215.00,316.41 L215.50,315.48 L216.00,314.56 L216.30,314.00 L216.50,311.68 L217.00,305.89 L217.50,300.11 L217.88,295.76 L218.00,294.32 L218.20,292.00 L218.50,287.22 L219.00,279.26 L219.50,271.30 L220.00,263.33 L220.50,255.37 L220.90,249.00 L221.00,246.44 L221.50,233.67 L222.00,220.89 L222.25,214.50 L222.50,208.11 L223.00,195.33 L223.50,182.56 L223.60,180.00 L224.00,183.56 L224.50,188.00 L225.00,192.44 L225.38,195.78 L225.50,196.89 L226.00,201.33 L226.30,204.00 L226.50,210.86 L226.62,215.14 L227.00,228.00 L227.50,245.14 L227.88,258.00 L228.00,262.29 L228.50,279.43 L229.00,296.57 L229.10,300.00 L229.12,300.24 L229.50,303.80 L230.00,308.55 L230.50,313.30 L231.00,318.05 L231.50,322.80 L231.60,323.75 L231.62,323.51 L232.00,319.87 L232.25,317.44 L232.50,315.01 L233.00,310.16 L233.50,305.31 L234.00,300.45 L234.50,295.60 L234.75,297.12 L235.00,298.64 L235.50,301.67 L236.00,304.71 L236.50,307.75 L237.00,310.79 L237.20,312.00 L237.25,312.25 L237.50,313.53 L238.00,316.08 L238.50,318.63 L239.00,321.18 L239.50,323.73 L239.75,325.00 L240.00,324.19 L240.38,322.98 L240.50,322.57 L241.00,320.95 L241.50,319.33 L242.00,317.71 L242.25,316.90 L242.50,319.60 L243.00,325.00 L243.50,330.41 L244.00,335.81 L244.50,340.62 L245.00,340.98 L245.38,341.25 L245.50,341.18 L245.60,341.12 L246.00,340.89 L246.50,340.61 L247.00,338.86 L247.50,333.77 L248.00,328.69 L248.50,323.60 L249.00,318.52 L249.10,317.50 L249.50,317.22 L249.75,317.05 L250.00,316.87 L250.50,316.52 L251.00,316.17 L251.25,316.00 L251.50,317.40 L252.00,320.20 L252.50,323.01 L253.00,325.81 L253.50,328.61 L254.00,331.41 L254.50,334.21 L254.75,334.00 L255.00,333.82 L255.50,333.45 L255.80,333.24 L256.00,333.09 L256.25,332.91 L256.50,332.73 L257.00,332.36 L257.50,332.00 L258.00,331.54 L258.50,331.07 L259.00,330.61 L259.12,330.50 L259.38,330.26 L259.50,330.15 L259.60,330.06 L260.00,329.69 L260.20,329.50 L260.50,328.05 L261.00,325.65 L261.30,324.20 L261.50,323.99 L262.00,323.47 L262.50,322.94 L263.00,322.42 L263.50,321.90 L264.00,321.38 L264.40,321.58 L264.50,321.63 L264.75,321.76 L265.00,321.88 L265.50,322.14 L266.00,322.39 L266.50,322.64 L266.80,322.80 L267.00,322.90 L267.20,323.00 L267.50,322.36 L267.88,321.55 L268.00,321.29 L268.50,320.21 L269.00,319.14 L269.30,318.50 L269.50,318.43 L270.00,315.45 L270.20,314.00 L270.38,313.40 L270.50,312.97 L271.00,311.25 L271.50,310.08 L272.00,308.91 L272.25,308.32 L272.50,307.73 L272.60,307.50 L272.88,308.31 L273.00,308.67 L273.50,310.14 L274.00,311.61 L274.10,311.90 L274.50,312.46 L275.00,313.17 L275.50,313.87 L276.00,314.58 L276.50,315.28 L277.00,315.99 L277.50,316.69 L277.88,317.22 L278.00,317.40 L278.50,318.10 L279.00,316.23 L279.50,314.36 L280.00,312.49 L280.50,310.62 L281.00,308.75 L281.50,306.40 L282.00,304.05 L282.50,301.70 L283.00,299.35 L283.50,297.00 L284.00,295.08 L284.12,294.60 L284.50,293.16 L285.00,291.24 L285.50,289.32 L286.00,287.40 L286.50,285.48 L286.60,285.10 L287.00,289.68 L287.25,292.55 L287.50,295.42 L287.90,300.00 L288.00,301.42 L288.50,308.50 L289.00,315.58 L289.40,321.25 L289.50,318.65 L289.75,312.14 L290.00,305.62 L290.50,292.60 L290.60,290.00 L291.00,283.80 L291.50,276.05 L291.60,274.50 L292.00,274.42 L292.50,274.33 L292.88,274.26 L293.00,274.23 L293.50,274.14 L294.00,274.04 L294.50,273.95 L294.75,273.90 L295.00,274.46 L295.50,275.58 L296.00,276.70 L296.50,277.82 L296.62,278.10 L297.00,278.94 L297.25,279.50 L297.50,281.62 L297.88,284.79 L298.00,285.85 L298.50,290.08 L299.00,294.32 L299.50,298.55 L300.00,302.78 L300.38,305.96 L300.50,307.02 L301.00,311.25 L301.50,312.44 L302.00,313.63 L302.50,314.82 L303.00,316.01 L303.10,316.25 L303.50,313.23 L304.00,309.46 L304.50,305.68 L304.75,303.80 L305.00,301.91 L305.50,298.14 L305.75,296.25 L306.00,297.39 L306.50,299.66 L307.00,301.93 L307.50,304.20 L308.00,306.48 L308.50,308.75 L309.00,308.85 L309.50,308.96 L310.00,309.06 L310.50,309.17 L311.00,309.27 L311.50,309.38 L311.60,309.40 L311.62,309.37 L312.00,308.92 L312.50,308.31 L313.00,307.71 L313.50,307.11 L314.00,306.50 L314.50,305.90 L314.75,305.60 L315.00,305.67 L315.50,305.82 L316.00,305.97 L316.50,306.12 L317.00,306.27 L317.50,306.42 L318.00,306.57 L318.50,306.72 L319.00,306.87 L319.10,306.90 L319.50,301.93 L319.75,298.83 L320.00,295.73 L320.30,292.00 L320.50,290.09 L321.00,285.31 L321.50,280.53 L322.00,275.75 L322.50,277.11 L323.00,278.48 L323.50,279.84 L324.00,281.20 L324.50,282.57 L324.75,283.25 L325.00,284.42 L325.38,286.18 L325.50,286.76 L326.00,289.10 L326.50,291.44 L327.00,293.79 L327.25,294.96 L327.50,296.13 L327.88,297.88 L327.90,298.00 L328.00,298.18 L328.50,299.08 L329.00,299.98 L329.50,300.88 L330.00,301.78 L330.38,302.46 L330.40,302.50 L330.50,302.35 L331.00,301.60 L331.50,300.85 L332.00,300.10 L332.50,299.35 L332.88,298.79 L332.90,298.75 L333.00,298.52 L333.50,297.36 L334.00,296.20 L334.50,295.05 L335.00,293.89 L335.50,292.73 L335.60,292.50 L336.00,293.71 L336.50,295.22 L337.00,296.72 L337.25,297.48 L337.50,298.23 L338.00,299.74 L338.50,301.25 L339.00,303.00 L339.50,304.75 L340.00,306.50 L340.50,308.25 L341.00,310.00 L341.50,313.82 L341.88,316.68 L342.00,317.64 L342.25,319.55 L342.50,321.45 L343.00,321.09 L343.50,320.16 L343.75,319.69 L344.00,319.22 L344.50,318.28 L345.00,317.34 L345.50,316.41 L345.62,316.17 L346.00,315.47 L346.25,315.00 L346.50,315.05 L347.00,315.15 L347.25,315.20 L347.50,315.25 L348.00,315.35 L348.50,315.45 L349.00,315.55 L349.38,315.11 L349.50,314.83 L350.00,313.68 L350.50,312.53 L351.00,311.38 L351.50,310.23 L351.60,310.00 L351.88,310.71 L352.00,311.03 L352.50,312.31 L353.00,313.60 L353.50,314.89 L353.75,315.53 L354.00,316.17 L354.50,317.46 L354.75,318.00 L355.00,317.97 L355.50,317.91 L356.00,317.84 L356.50,317.78 L357.00,317.72 L357.50,317.66 L357.75,317.62 L358.00,317.59 L358.50,317.53 L358.75,317.50 L359.00,316.32 L359.50,313.95 L360.00,311.59 L360.50,309.22 L360.60,308.75 L360.62,308.72 L361.00,308.22 L361.25,307.89 L361.50,307.57 L362.00,306.91 L362.50,306.25 L363.00,303.95 L363.12,303.37 L363.50,301.64 L363.75,300.49 L364.00,299.34 L364.38,297.62 L364.40,297.50 L364.50,297.25 L365.00,296.00 L365.50,294.75 L365.62,294.44 L366.00,293.50 L366.20,293.00 L366.50,292.54 L367.00,291.77 L367.50,291.00 L368.00,290.23 L368.50,289.46 L368.80,289.00 L369.00,278.71 L369.50,253.00 L370.00,227.29 L370.50,201.57 L370.62,195.14 L371.00,175.86 L371.25,163.00 L371.50,150.14 L371.60,145.00 L372.00,141.15 L372.50,136.33 L373.00,131.52 L373.50,126.70 L373.75,124.30 L374.00,121.89 L374.30,119.00 L374.38,123.78 L374.50,131.74 L375.00,163.59 L375.50,195.44 L376.00,227.30 L376.50,259.15 L376.88,283.04 L377.00,291.00 L377.00,291.00 L376.88,283.04 L376.50,259.15 L376.00,227.30 L375.50,195.44 L375.00,163.59 L374.50,131.74 L374.38,123.78 L374.30,119.00 L374.00,121.89 L373.75,124.30 L373.50,126.70 L373.00,131.52 L372.50,136.33 L372.00,141.15 L371.60,145.00 L371.50,150.14 L371.25,163.00 L371.00,175.86 L370.62,195.14 L370.50,201.57 L370.00,227.29 L369.50,253.00 L369.00,278.71 L368.80,289.00 L368.50,289.46 L368.00,290.23 L367.50,291.00 L367.00,291.77 L366.50,292.54 L366.20,293.00 L366.00,293.50 L365.62,294.44 L365.50,294.75 L365.00,296.00 L364.50,297.25 L364.40,297.50 L364.38,297.62 L364.00,299.34 L363.75,300.49 L363.50,301.64 L363.12,303.37 L363.00,303.95 L362.50,306.25 L362.00,306.91 L361.50,307.57 L361.25,307.89 L361.00,308.22 L360.62,308.72 L360.60,308.75 L360.50,309.22 L360.00,311.59 L359.50,313.95 L359.00,316.32 L358.75,317.50 L358.50,317.54 L358.00,317.61 L357.75,317.65 L357.50,317.69 L357.00,317.76 L356.50,317.84 L356.00,317.91 L355.50,317.99 L355.00,318.06 L354.75,318.10 L354.50,317.46 L354.00,316.17 L353.75,315.53 L353.50,314.89 L353.00,313.60 L352.50,312.31 L352.00,311.03 L351.88,310.71 L351.60,310.00 L351.50,310.23 L351.00,311.38 L350.50,312.53 L350.00,313.68 L349.50,314.83 L349.38,315.11 L349.00,315.98 L348.50,317.13 L348.00,318.28 L347.50,319.43 L347.25,320.00 L347.00,320.79 L346.50,322.36 L346.25,323.14 L346.00,323.93 L345.62,325.11 L345.50,325.50 L345.00,327.07 L344.50,328.64 L344.00,330.21 L343.75,331.00 L343.50,329.09 L343.00,325.27 L342.50,321.45 L342.25,319.55 L342.00,317.64 L341.88,316.68 L341.50,313.82 L341.00,310.00 L340.50,308.25 L340.00,306.50 L339.50,304.75 L339.00,303.00 L338.50,301.25 L338.00,299.74 L337.50,298.23 L337.25,297.48 L337.00,296.72 L336.50,295.22 L336.00,293.71 L335.60,292.50 L335.50,292.73 L335.00,293.89 L334.50,295.05 L334.00,296.20 L333.50,297.36 L333.00,298.52 L332.90,298.75 L332.88,298.79 L332.50,299.35 L332.00,300.10 L331.50,300.85 L331.00,301.60 L330.50,302.35 L330.40,302.50 L330.38,302.46 L330.00,301.78 L329.50,300.88 L329.00,299.98 L328.50,299.08 L328.00,298.18 L327.90,298.00 L327.88,297.88 L327.50,296.13 L327.25,294.96 L327.00,293.79 L326.50,291.44 L326.00,289.10 L325.50,286.76 L325.38,286.18 L325.00,284.42 L324.75,283.25 L324.50,282.57 L324.00,281.20 L323.50,279.84 L323.00,278.48 L322.50,277.11 L322.00,275.75 L321.50,280.53 L321.00,285.31 L320.50,290.09 L320.30,292.00 L320.00,295.73 L319.75,298.83 L319.50,301.93 L319.10,306.90 L319.00,306.87 L318.50,306.72 L318.00,306.57 L317.50,306.42 L317.00,306.27 L316.50,306.12 L316.00,305.97 L315.50,305.82 L315.00,305.67 L314.75,305.60 L314.50,305.90 L314.00,306.50 L313.50,307.11 L313.00,307.71 L312.50,308.31 L312.00,308.92 L311.62,309.37 L311.60,309.40 L311.50,309.38 L311.00,309.27 L310.50,309.17 L310.00,309.06 L309.50,308.96 L309.00,308.85 L308.50,308.75 L308.00,306.48 L307.50,304.20 L307.00,301.93 L306.50,299.66 L306.00,297.39 L305.75,296.25 L305.50,298.14 L305.00,301.91 L304.75,303.80 L304.50,305.68 L304.00,309.46 L303.50,313.23 L303.10,316.25 L303.00,316.01 L302.50,314.82 L302.00,313.63 L301.50,312.44 L301.00,311.25 L300.50,307.02 L300.38,305.96 L300.00,302.78 L299.50,298.55 L299.00,294.32 L298.50,290.08 L298.00,285.85 L297.88,284.79 L297.50,281.62 L297.25,279.50 L297.00,278.94 L296.62,278.10 L296.50,277.82 L296.00,276.70 L295.50,275.58 L295.00,274.46 L294.75,273.90 L294.50,273.95 L294.00,274.04 L293.50,274.14 L293.00,274.23 L292.88,274.26 L292.50,274.33 L292.00,274.42 L291.60,274.50 L291.50,276.05 L291.00,283.80 L290.60,290.00 L290.50,292.60 L290.00,305.62 L289.75,312.14 L289.50,318.65 L289.40,321.25 L289.00,315.58 L288.50,308.50 L288.00,301.42 L287.90,300.00 L287.50,295.42 L287.25,292.55 L287.00,289.68 L286.60,285.10 L286.50,285.48 L286.00,287.40 L285.50,289.32 L285.00,291.24 L284.50,293.16 L284.12,294.60 L284.00,295.08 L283.50,297.00 L283.00,299.35 L282.50,301.70 L282.00,304.05 L281.50,306.40 L281.00,308.75 L280.50,310.62 L280.00,312.49 L279.50,314.36 L279.00,316.23 L278.50,318.10 L278.00,317.40 L277.88,317.22 L277.50,316.69 L277.00,315.99 L276.50,315.28 L276.00,314.58 L275.50,313.87 L275.00,313.17 L274.50,312.46 L274.10,311.90 L274.00,311.61 L273.50,310.14 L273.00,308.67 L272.88,308.31 L272.60,307.50 L272.50,307.73 L272.25,308.32 L272.00,308.91 L271.50,310.08 L271.00,311.25 L270.50,312.97 L270.38,313.40 L270.20,314.00 L270.00,315.45 L269.50,319.06 L269.30,320.51 L269.00,322.68 L268.50,326.30 L268.00,329.92 L267.88,330.82 L267.50,333.54 L267.20,335.71 L267.00,337.15 L266.80,338.60 L266.50,338.80 L266.00,339.13 L265.50,339.47 L265.00,339.80 L264.75,339.97 L264.50,340.13 L264.40,340.20 L264.00,339.68 L263.50,339.04 L263.00,338.39 L262.50,337.75 L262.00,337.10 L261.50,336.45 L261.30,336.20 L261.00,335.81 L260.50,335.16 L260.20,334.77 L260.00,334.52 L259.60,334.00 L259.50,334.20 L259.38,334.44 L259.12,334.94 L259.00,335.18 L258.50,336.17 L258.00,337.16 L257.50,338.14 L257.00,339.13 L256.50,340.12 L256.25,340.61 L256.00,341.11 L255.80,341.50 L255.50,339.82 L255.00,337.02 L254.75,335.62 L254.50,334.21 L254.00,331.41 L253.50,328.61 L253.00,325.81 L252.50,323.01 L252.00,320.20 L251.50,317.40 L251.25,316.00 L251.00,316.17 L250.50,316.52 L250.00,316.87 L249.75,317.05 L249.50,317.22 L249.10,317.50 L249.00,318.52 L248.50,323.60 L248.00,328.69 L247.50,333.77 L247.00,338.86 L246.50,343.95 L246.00,349.03 L245.60,353.10 L245.50,352.02 L245.38,350.67 L245.00,346.62 L244.50,341.21 L244.00,335.81 L243.50,330.41 L243.00,325.00 L242.50,319.60 L242.25,316.90 L242.00,317.71 L241.50,319.33 L241.00,320.95 L240.50,322.57 L240.38,322.98 L240.00,324.19 L239.75,325.00 L239.50,323.73 L239.00,321.18 L238.50,318.63 L238.00,316.08 L237.50,313.53 L237.25,312.25 L237.20,312.00 L237.00,310.79 L236.50,307.75 L236.00,304.71 L235.50,301.67 L235.00,298.64 L234.75,297.12 L234.50,295.60 L234.00,300.45 L233.50,305.31 L233.00,310.16 L232.50,315.01 L232.25,317.44 L232.00,319.87 L231.62,323.51 L231.60,323.75 L231.50,322.80 L231.00,318.05 L230.50,313.30 L230.00,308.55 L229.50,303.80 L229.12,300.24 L229.10,300.00 L229.00,296.57 L228.50,279.43 L228.00,262.29 L227.88,258.00 L227.50,245.14 L227.00,228.00 L226.62,215.14 L226.50,210.86 L226.30,204.00 L226.00,201.33 L225.50,196.89 L225.38,195.78 L225.00,192.44 L224.50,188.00 L224.00,183.56 L223.60,180.00 L223.50,182.56 L223.00,195.33 L222.50,208.11 L222.25,214.50 L222.00,220.89 L221.50,233.67 L221.00,246.44 L220.90,249.00 L220.50,255.37 L220.00,263.33 L219.50,271.30 L219.00,279.26 L218.50,287.22 L218.20,292.00 L218.00,294.32 L217.88,295.76 L217.50,300.11 L217.00,305.89 L216.50,311.68 L216.30,314.00 L216.00,314.56 L215.50,315.48 L215.00,316.41 L214.75,316.88 L214.50,317.79 L214.00,319.62 L213.50,321.46 L213.00,323.29 L212.88,323.75 L212.50,323.98 L212.25,324.12 L212.00,324.27 L211.50,324.57 L211.00,324.88 L210.50,325.18 L210.00,325.48 L209.75,325.62 L209.50,324.04 L209.12,321.67 L209.00,320.88 L208.50,317.71 L208.00,314.54 L207.88,313.75 L207.50,309.38 L207.25,306.46 L207.00,303.54 L206.62,299.17 L206.50,297.71 L206.00,291.88 L205.50,286.04 L205.00,280.21 L204.75,277.29 L204.50,274.38 L204.12,281.64 L204.00,284.06 L203.50,293.75 L203.00,303.44 L202.50,313.12 L202.00,315.07 L201.62,316.53 L201.50,317.01 L201.38,317.50 L201.00,316.36 L200.50,314.84 L200.00,313.33 L199.50,311.81 L199.12,310.67 L199.00,310.29 L198.50,308.77 L198.00,307.25 L197.88,306.88 L197.50,305.20 L197.00,302.97 L196.50,300.73 L196.00,298.50 L195.50,299.05 L195.00,299.60 L194.50,300.15 L194.00,300.70 L193.50,301.25 L193.25,300.85 L193.00,300.45 L192.50,299.65 L192.00,298.85 L191.50,298.05 L191.00,297.25 L190.50,296.45 L190.38,296.25 L190.00,297.05 L189.50,298.12 L189.12,298.93 L189.00,299.20 L188.50,300.27 L188.00,301.34 L187.88,301.61 L187.50,302.41 L187.00,303.48 L186.50,304.55 L186.00,305.62 L185.50,305.71 L185.38,305.73 L185.00,305.79 L184.50,305.88 L184.00,305.96 L183.50,306.04 L183.00,306.12 L182.50,306.21 L182.25,306.25 L182.00,307.58 L181.50,310.25 L181.00,312.92 L180.50,315.58 L180.38,316.25 L180.00,314.84 L179.75,313.91 L179.50,312.97 L179.00,311.09 L178.50,309.22 L178.00,307.34 L177.88,306.88 L177.50,304.03 L177.25,302.13 L177.00,300.23 L176.50,296.44 L176.00,292.64 L175.50,288.84 L175.00,285.05 L174.75,283.15 L174.50,281.25 L174.00,285.82 L173.50,290.38 L173.00,294.95 L172.50,299.51 L172.00,304.08 L171.62,307.50 L171.50,307.82 L171.00,309.12 L170.50,310.43 L170.00,311.73 L169.50,313.02 L169.00,314.32 L168.75,314.98 L168.50,315.62 L168.00,314.32 L167.50,313.02 L167.00,311.73 L166.50,310.43 L166.00,309.12 L165.50,307.82 L165.38,307.50 L165.00,310.00 L164.50,313.33 L164.12,315.83 L164.00,316.67 L163.50,320.00 L163.00,316.83 L162.50,313.67 L162.25,312.08 L162.00,310.50 L161.62,308.12 L161.50,307.75 L161.00,306.25 L160.75,305.50 L160.50,304.75 L160.00,303.25 L159.50,301.75 L159.00,300.25 L158.50,298.75 L158.00,298.12 L157.88,297.97 L157.50,297.50 L157.00,296.88 L156.50,296.25 L156.00,295.62 L155.50,295.00 L155.38,294.84 L155.00,294.38 L154.50,294.94 L154.00,295.51 L153.50,296.08 L153.00,296.65 L152.50,297.22 L152.25,297.50 L152.00,299.00 L151.50,302.00 L151.00,305.00 L150.50,308.00 L150.00,311.00 L149.75,312.50 L149.50,314.00 L149.12,316.25 L149.00,317.21 L148.50,321.03 L148.00,324.85 L147.50,328.68 L147.00,332.50 L146.62,333.07 L146.50,333.26 L146.00,334.02 L145.50,334.78 L145.00,335.54 L144.50,336.30 L144.12,336.88 L144.00,335.88 L143.50,331.88 L143.00,327.88 L142.50,323.88 L142.00,319.88 L141.62,316.88 L141.50,316.48 L141.00,314.88 L140.50,313.27 L140.00,311.68 L139.50,310.07 L139.00,308.48 L138.50,306.88 L138.00,306.99 L137.50,307.10 L137.00,307.22 L136.50,307.33 L136.00,307.44 L135.75,307.50 L135.50,307.92 L135.00,308.75 L134.50,309.58 L134.00,310.42 L133.50,311.25 L133.25,312.35 L133.00,313.45 L132.50,315.65 L132.00,317.85 L131.50,320.05 L131.00,322.25 L130.50,324.45 L130.38,325.00 L130.00,325.45 L129.75,325.75 L129.50,326.05 L129.00,326.65 L128.50,327.25 L128.00,327.85 L127.50,328.45 L127.25,328.75 L127.00,328.38 L126.50,327.62 L126.00,326.88 L125.50,326.12 L125.38,325.94 L125.00,325.38 L124.75,325.00 L124.50,325.75 L124.12,326.88 L124.00,327.25 L123.50,328.75 L123.00,330.25 L122.50,331.75 L122.25,332.50 L122.00,331.50 L121.50,329.50 L121.00,327.50 L120.50,325.50 L120.00,323.50 L119.50,321.50 L119.12,320.00 L119.00,320.06 L118.50,320.28 L118.00,320.51 L117.50,320.74 L117.00,320.97 L116.62,321.14 L116.50,321.19 L116.00,321.42 L115.50,321.65 L115.00,321.88 L114.50,322.10 L114.00,322.33 L113.50,322.56 L113.00,322.78 L112.88,322.84 L112.50,323.01 L112.25,323.12 L112.00,323.35 L111.62,323.68 L111.50,323.79 L111.00,324.24 L110.50,324.69 L110.00,325.13 L109.50,325.58 L109.00,326.03 L108.75,326.25 L108.50,325.82 L108.25,325.40 L108.00,324.97 L107.50,324.12 L107.00,323.27 L106.50,322.42 L106.00,321.57 L105.50,320.72 L105.38,320.51 L105.00,319.87 L104.50,319.02 L104.00,318.16 L103.50,317.31 L103.00,316.46 L102.88,316.25 L102.50,318.21 L102.00,320.82 L101.62,322.77 L101.50,323.42 L101.00,326.03 L100.50,328.64 L100.00,331.25 L99.75,330.12 L99.50,329.00 L99.00,326.75 L98.50,324.50 L98.00,322.25 L97.88,321.69 L97.50,320.00 L97.25,320.91 L97.00,321.82 L96.50,323.64 L96.00,325.45 L95.50,327.27 L95.00,329.09 L94.75,330.00 L94.50,329.95 L94.00,329.85 L93.50,329.75 L93.00,329.65 L92.50,329.55 L92.25,329.50 L92.00,329.45 L91.62,329.38 L91.50,328.18 L91.00,323.40 L90.50,318.61 L90.00,313.83 L89.60,310.00 L89.50,309.22 L89.12,306.31 L89.00,305.33 L88.70,303.00 L88.50,301.75 L88.00,298.64 L87.50,295.53 L87.00,292.41 L86.50,289.30 L86.00,289.42 L85.50,289.54 L85.00,289.66 L84.75,289.72 L84.50,289.78 L84.40,289.80 L84.00,287.33 L83.75,285.78 L83.50,284.24 L83.00,281.15 L82.50,278.05 L82.25,276.51 L82.00,274.96 L81.62,272.65 L81.50,271.87 L81.25,270.33 L81.00,268.78 L80.50,265.69 L80.00,262.60Z" fill="#2f72a8" stroke="none"/>
<path d="M78.50,265.00 L81.62,272.50 L89.12,281.25 L92.25,278.12 L94.75,283.75 L97.50,297.50 L99.75,282.50 L102.88,268.75 L106.00,265.62 L108.50,254.38 L112.88,252.50 L116.62,245.62 L119.12,272.50 L122.00,286.25 L124.12,272.50 L125.00,266.88 L130.38,281.25 L133.25,293.12 L136.00,280.00 L138.50,265.62 L141.00,263.75 L144.12,273.75 L146.62,267.50 L149.75,265.00 L152.50,275.00 L155.00,247.50 L157.88,261.25 L160.75,245.62 L163.50,250.62 L166.00,245.62 L168.75,246.88 L171.62,231.25 L174.75,250.00 L177.25,258.75 L179.75,255.00 L182.25,257.50 L185.38,263.75 L187.88,252.50 L190.38,234.38 L193.25,242.50 L196.00,226.88 L199.12,226.88 L201.62,265.62 L204.75,266.88 L207.25,275.00 L209.12,283.75 L212.25,300.62 L216.00,291.25 L217.88,282.00 L221.00,266.38 L223.50,270.75 L226.62,272.00 L229.12,282.00 L231.62,285.75 L234.75,293.25 L238.50,293.25 L242.50,274.50 L245.38,275.75 L248.50,275.75 L253.50,258.25 L256.25,269.50 L259.38,250.75 L264.75,268.88 L270.38,273.25 L272.88,290.12 L277.88,280.75 L281.00,278.88 L284.12,264.50 L289.75,269.50 L294.50,283.88 L297.25,277.62 L300.38,287.62 L303.50,282.00 L306.00,265.75 L308.50,262.00 L313.50,270.75 L316.00,270.12 L319.75,276.38 L325.00,263.88 L327.88,275.75 L330.38,272.62 L332.88,286.38 L336.00,273.25 L341.88,260.00 L345.00,263.75 L349.38,265.62 L352.50,271.25 L355.00,265.00 L357.75,245.62 L360.62,260.00 L363.12,255.00 L365.62,256.25 L368.50,231.25 L371.25,243.75 L374.00,264.38 L376.88,253.75 L379.75,262.50 L384.38,251.25 L387.75,261.88 L390.62,252.50 L395.62,250.62 L399.38,248.12 L401.88,254.38 L404.00,263.75 L406.88,268.75 L412.50,263.12 L415.38,255.00 L418.12,265.00 L421.00,261.88 L423.75,246.25 L429.00,235.00 L431.62,222.50 L434.38,240.00 L436.88,241.88 L440.00,246.88 L445.62,243.75 L448.12,250.62 L451.00,242.50 L456.50,259.38 L459.00,248.75 L461.88,256.88 L467.50,255.00 L470.62,248.75 L475.00,246.25 L478.12,250.62 L480.00,250.00 L482.50,248.57 L485.18,249.46 L491.43,238.75 L494.11,242.32 L497.14,234.29 L501.25,242.32 L503.93,242.86 L507.86,241.79 L511.43,225.36 L515.54,230.71 L518.21,230.71 L524.46,236.07 L529.82,235.18 L541.43,215.54 L547.68,221.43 L552.50,205.36 L554.82,205.71 L557.50,216.07 L560.71,200.36 L562.86,200.36 L566.07,212.86 L568.21,206.07 L571.43,207.50 L573.93,220.00 L576.25,211.96 L579.29,209.29 L584.29,223.57 L587.50,225.36 L590.54,215.54 L598.57,214.29 L603.93,204.82 L608.39,217.32 L611.96,220.00 L615.54,211.96 L623.57,207.14 L629.82,206.07 L633.39,200.36 L635.71,202.14 L638.75,195.89 L639.82,194.64 L642.50,193.75 L645.18,198.21 L647.86,176.79 L651.07,176.79 L655.00,192.86 L661.25,200.00 L667.14,209.82 L672.86,196.43 L680.00,193.75 L683.57,162.86 L686.25,166.07 L688.57,162.86 L691.61,187.50 L697.50,194.64 L700.54,185.71 L702.68,167.86 L705.36,187.50 L708.57,191.07 L711.25,186.61 L713.57,176.43 L716.61,189.29 L719.29,171.43 L721.96,192.86 L724.64,194.64 L727.32,191.96 L733.04,163.39 L738.04,186.61 L741.61,182.14 L746.43,191.43 L751.43,183.93 L754.11,183.93 L757.68,173.21 L763.04,186.61 L765.71,187.50 L768.93,180.36 L774.64,191.07 L779.11,187.14 L784.46,192.86 L787.50,183.04 L790.71,194.64 L793.39,196.07 L795.71,202.14 L798.75,196.43 L802.86,199.11 L806.79,186.61 L809.46,190.18 L812.14,183.93 L814.82,194.64 L823.21,205.71 L826.25,200.36 L830.71,180.71 L834.29,152.14 L837.86,182.50 L841.79,197.68 L845.00,195.00 L847.68,196.79 L850.71,182.86 L855.71,204.82 L858.93,189.64 L861.43,187.86 L864.11,195.89 L866.79,185.71 L869.64,188.75 L872.32,186.96 L878.04,207.50 L880.71,202.14 L883.39,213.75 L886.43,210.71 L888.75,209.64 L894.11,187.86 L897.14,186.43 L899.82,168.57 L903.04,206.61 L905.36,203.04 L908.39,211.07 L911.07,196.79 L913.39,190.54 L916.43,216.43 L919.11,182.86 L922.14,211.96 L927.14,227.86 L931.61,221.25 L935.71,216.43 L937.86,217.32 L941.43,223.93 L944.11,215.54 L946.79,187.86 L948.93,181.61 L951.25,191.43 L954.29,244.46 L957.50,237.32 L960.18,232.86 L962.86,205.71 L965.54,186.43 L968.21,211.07 L970.89,239.11 L973.57,232.86 L976.25,231.96 L979.46,212.50 L982.50,216.43 L984.75,226.25 L986.88,225.62 L990.00,243.75 L993.12,248.12 L995.62,259.38 L998.50,262.50 L1001.00,251.25 L1004.38,245.00 L1006.88,247.50 L1009.62,253.75 L1012.50,246.25 L1016.88,241.88 L1020.25,217.50 L1023.12,247.50 L1025.62,238.75 L1031.25,260.62 L1033.75,257.50 L1036.62,248.75 L1040.00,261.25 L1042.50,263.12 L1045.00,258.75 L1047.75,234.38 L1050.62,234.38 L1053.38,249.38 L1055.88,233.50 L1058.75,236.88 L1063.12,261.25 L1065.00,264.38 L1067.12,262.50 L1069.38,240.00 L1072.50,236.25 L1075.00,247.50 L1075.30,247.50" stroke="#ff0000" stroke-width="0.8" stroke-dasharray="2.6 1.1"/>
<path d="M78.50,320.00 L81.25,326.88 L83.75,320.00 L88.50,325.00 L92.25,325.00 L95.00,331.88 L97.88,326.88 L101.62,326.25 L105.38,331.25 L108.25,340.00 L111.00,326.88 L113.50,328.75 L119.12,326.88 L122.00,334.38 L125.38,332.50 L129.75,333.12 L136.00,330.00 L141.00,329.38 L146.00,331.25 L148.50,333.12 L152.25,345.00 L157.88,342.50 L162.25,351.25 L164.12,351.25 L168.75,340.62 L171.62,346.88 L176.00,347.50 L179.75,351.25 L185.38,350.00 L188.50,340.00 L196.00,335.00 L201.00,334.38 L204.12,330.00 L206.62,336.25 L209.12,343.12 L212.25,348.12 L216.00,343.12 L222.25,344.38 L227.88,332.50 L232.25,335.62 L237.25,331.88 L241.00,338.12 L245.38,341.25 L249.75,338.75 L254.75,334.00 L257.50,332.00 L260.20,329.50 L261.30,324.20 L264.00,321.38 L267.20,323.00 L269.30,318.50 L270.38,318.12 L272.25,333.12 L276.00,333.75 L281.00,327.50 L286.00,325.62 L289.75,321.25 L292.88,323.75 L296.62,330.62 L301.00,329.38 L304.75,333.12 L308.50,325.00 L316.00,323.12 L319.75,328.75 L324.75,325.62 L327.25,331.25 L331.00,319.38 L337.25,317.50 L342.25,322.50 L346.25,315.00 L349.38,315.62 L353.75,318.12 L358.75,317.50 L363.75,317.50 L370.62,310.00 L374.38,313.12 L378.75,310.00 L384.38,308.75 L390.00,301.88 L393.75,306.25 L401.25,308.12 L408.75,304.38 L415.00,295.62 L420.00,303.75 L428.75,293.12 L434.38,298.12 L438.75,294.38 L443.75,291.88 L448.75,294.38 L457.50,289.38 L466.25,291.25 L471.25,286.88 L477.50,285.00 L482.00,286.00 L484.50,285.25 L486.88,288.12 L488.75,283.39 L494.11,279.82 L496.79,282.50 L502.14,276.25 L508.39,270.89 L511.96,272.68 L516.43,272.68 L523.57,267.32 L530.71,261.96 L534.29,267.32 L539.64,260.18 L542.32,260.18 L545.89,263.75 L552.14,257.50 L556.61,257.86 L562.86,255.71 L568.21,251.79 L571.79,255.71 L577.14,260.18 L578.93,257.50 L582.14,261.43 L586.07,252.14 L590.00,257.50 L595.00,249.46 L598.21,253.04 L602.14,242.32 L606.61,244.11 L611.07,247.14 L618.21,240.54 L621.79,244.11 L628.93,238.75 L634.29,238.39 L641.43,240.54 L645.89,232.14 L650.36,234.64 L653.04,232.50 L656.61,236.96 L658.93,235.18 L661.43,240.54 L664.64,229.82 L670.00,232.50 L672.86,233.93 L678.21,235.71 L685.36,226.79 L688.04,227.68 L691.61,222.32 L695.18,228.57 L698.75,227.68 L702.32,231.25 L705.89,229.46 L708.57,232.50 L712.14,226.79 L715.71,224.64 L719.29,228.57 L722.50,221.07 L725.54,228.57 L729.11,225.00 L733.57,227.68 L737.14,227.14 L742.50,221.43 L746.96,226.79 L752.32,221.43 L754.11,231.25 L758.57,227.68 L765.71,224.11 L771.96,222.32 L778.21,224.11 L782.68,224.11 L785.36,226.79 L788.93,225.00 L792.86,228.93 L796.96,225.36 L799.64,226.79 L802.32,225.00 L806.79,231.25 L810.36,227.68 L814.82,222.86 L819.29,225.89 L823.75,227.68 L825.36,226.61 L830.71,226.07 L836.96,237.86 L844.11,227.86 L855.71,233.75 L862.86,238.21 L871.79,241.79 L878.04,245.36 L886.07,257.86 L891.43,253.39 L897.68,249.29 L902.14,253.39 L905.71,262.32 L907.86,282.86 L911.07,274.82 L912.86,278.39 L916.43,267.14 L925.36,272.14 L931.61,275.71 L936.96,265.00 L940.54,260.54 L943.21,275.71 L946.79,282.86 L952.14,284.64 L962.86,285.54 L965.54,280.18 L970.00,293.57 L975.36,298.93 L980.71,300.71 L984.29,298.04 L988.75,301.61 L992.32,297.50 L993.12,297.62 L998.50,311.38 L1001.00,305.75 L1004.38,312.00 L1006.62,308.25 L1008.75,311.38 L1012.25,302.00 L1017.50,307.62 L1020.00,307.00 L1023.12,310.75 L1028.12,310.12 L1031.25,318.88 L1033.75,320.12 L1038.75,310.12 L1040.62,310.75 L1042.12,320.75 L1045.00,311.38 L1047.50,317.62 L1051.88,317.00 L1055.62,328.25 L1058.75,314.50 L1061.25,314.50 L1063.75,321.38 L1070.00,314.50 L1072.50,317.62 L1075.00,322.00 L1075.30,322.00" stroke="#add8e6" stroke-width="1.4" stroke-dasharray="5.1 2.2"/>
<path d="M78.50,304.38 L82.25,300.00 L84.75,300.62 L88.50,305.62 L93.50,309.38 L97.25,315.62 L102.88,302.75 L105.38,303.12 L108.75,310.25 L111.62,301.88 L113.50,301.88 L116.62,313.75 L119.12,307.50 L124.75,319.38 L127.50,307.50 L130.38,315.62 L133.25,307.50 L138.50,307.25 L141.62,316.25 L144.12,315.00 L148.50,319.00 L152.25,319.38 L155.38,321.25 L161.00,316.88 L163.50,312.50 L168.50,319.38 L174.75,310.62 L177.25,309.38 L182.25,312.50 L186.00,311.25 L189.12,310.00 L193.50,305.00 L196.00,306.25 L201.00,312.50 L204.75,313.75 L208.50,316.88 L212.25,318.12 L216.00,321.88 L218.50,315.62 L221.00,315.00 L225.38,310.62 L228.50,312.50 L231.62,309.38 L234.75,312.50 L237.50,315.00 L240.38,310.62 L245.38,309.38 L248.50,311.25 L251.00,305.00 L253.50,303.12 L256.00,305.62 L259.12,303.12 L264.75,300.62 L267.88,303.75 L270.38,306.25 L273.50,307.50 L278.50,308.12 L281.00,304.38 L284.12,302.50 L287.25,299.75 L291.00,301.25 L294.75,305.00 L297.88,313.12 L300.38,312.50 L303.50,310.62 L308.50,310.00 L311.62,305.62 L314.75,304.38 L319.75,300.62 L325.38,295.62 L327.88,298.75 L330.38,302.50 L332.88,305.62 L336.00,301.88 L341.00,302.50 L343.50,298.12 L345.62,295.00 L349.38,294.38 L351.88,292.50 L355.00,297.50 L357.50,294.75 L361.25,297.75 L364.38,293.12 L367.50,287.50 L371.00,283.75 L373.75,289.38 L376.88,295.62 L380.00,290.00 L382.50,290.00 L385.00,291.88 L387.50,290.62 L390.38,283.75 L393.12,287.50 L396.25,290.62 L401.25,291.88 L403.75,290.62 L406.88,285.62 L410.00,286.88 L415.00,286.88 L418.12,285.62 L426.25,266.88 L428.75,266.88 L431.88,271.88 L434.38,271.88 L436.88,269.38 L445.00,272.50 L447.75,278.75 L450.62,272.50 L457.50,270.00 L461.88,267.50 L467.50,275.62 L470.00,276.88 L473.12,271.25 L475.36,269.11 L479.82,268.21 L486.07,263.75 L488.75,260.18 L491.43,263.75 L496.79,258.39 L502.14,257.14 L505.71,257.50 L508.39,253.93 L511.07,255.36 L513.75,245.00 L517.32,247.68 L521.79,248.21 L525.00,249.46 L528.04,247.14 L534.29,245.89 L541.43,243.57 L546.79,246.79 L549.46,239.29 L552.14,237.86 L555.71,241.79 L557.86,239.64 L561.96,242.86 L565.54,236.96 L568.21,238.75 L571.43,236.96 L576.79,244.11 L579.82,241.43 L584.29,241.07 L587.32,236.61 L590.54,239.64 L594.11,238.75 L599.46,231.61 L602.14,230.36 L607.50,230.36 L610.18,235.18 L614.29,232.50 L618.21,228.39 L620.89,228.57 L623.21,226.79 L627.14,228.57 L632.50,226.79 L636.96,222.68 L642.32,220.89 L646.79,217.32 L650.36,219.11 L653.04,218.21 L655.71,222.14 L660.18,217.32 L664.64,218.57 L670.00,216.07 L674.64,212.86 L678.21,213.93 L680.89,212.50 L683.57,212.86 L686.25,211.07 L689.82,213.39 L696.07,212.50 L702.32,207.14 L705.89,210.36 L708.57,209.82 L711.25,212.86 L714.82,208.93 L719.29,208.04 L723.75,211.07 L727.32,208.04 L730.89,210.36 L737.14,208.04 L741.61,208.04 L744.29,209.29 L746.96,207.50 L752.32,211.61 L755.89,209.29 L758.57,210.18 L763.04,206.61 L765.71,207.50 L771.07,207.14 L774.64,210.71 L777.32,210.36 L779.11,206.25 L781.79,208.04 L787.14,215.71 L789.82,215.71 L792.86,217.86 L796.07,216.07 L801.43,210.71 L806.79,217.86 L809.46,216.07 L812.50,209.82 L817.50,212.86 L822.86,214.64 L824.46,213.57 L829.82,213.21 L833.39,215.00 L836.96,220.00 L839.29,217.14 L845.00,220.71 L850.36,218.93 L859.29,224.29 L864.64,222.50 L868.21,222.50 L872.68,223.93 L876.25,222.50 L881.61,230.18 L888.75,224.29 L893.21,231.96 L896.79,237.32 L899.46,231.07 L902.50,228.39 L906.61,236.43 L911.07,243.21 L916.43,237.32 L920.89,241.79 L925.00,250.36 L927.14,247.14 L929.82,251.61 L932.50,247.50 L936.96,249.82 L941.43,249.82 L946.79,262.32 L948.57,261.79 L952.14,270.36 L957.14,264.11 L959.29,267.68 L962.86,262.86 L965.54,263.21 L969.11,268.21 L971.79,268.57 L974.46,271.25 L976.79,266.43 L979.82,271.25 L982.14,277.50 L984.64,270.71 L987.86,279.29 L992.32,283.75 L995.00,282.86 L998.57,288.57 L1002.14,285.00 L1006.61,292.14 L1011.07,286.43 L1015.00,282.86 L1020.00,288.57 L1023.12,292.62 L1026.25,294.12 L1030.62,293.50 L1033.75,296.38 L1036.88,296.38 L1039.62,298.00 L1042.50,295.12 L1045.00,294.25 L1047.88,292.62 L1050.62,296.38 L1053.38,295.75 L1055.88,286.38 L1058.75,283.25 L1061.88,284.50 L1067.12,296.38 L1069.38,295.50 L1072.50,295.75 L1075.00,298.88 L1075.30,298.88" stroke="#000" stroke-width="2.8" stroke-linecap="square"/>
<path d="M80.00,262.60 L84.40,289.80 L86.50,289.30 L88.70,303.00 L89.60,310.00 L91.62,329.38 L94.75,330.00 L97.50,320.00 L100.00,331.25 L102.88,316.25 L108.75,326.25 L112.25,323.12 L119.12,320.00 L122.25,332.50 L124.75,325.00 L127.25,328.75 L130.38,325.00 L133.50,311.25 L135.75,307.50 L138.50,306.88 L141.62,316.88 L144.12,336.88 L147.00,332.50 L149.12,316.25 L152.25,297.50 L155.00,294.38 L158.50,298.75 L161.62,308.12 L163.50,320.00 L165.38,307.50 L168.50,315.62 L171.62,307.50 L174.50,281.25 L177.88,306.88 L180.38,316.25 L182.25,306.25 L186.00,305.62 L190.38,296.25 L193.50,301.25 L196.00,298.50 L197.88,306.88 L201.38,317.50 L202.50,313.12 L204.50,274.38 L207.88,313.75 L209.75,325.62 L212.88,323.75 L214.75,316.88 L216.30,314.00 L218.20,292.00 L220.90,249.00 L223.60,180.00 L226.30,204.00 L229.10,300.00 L231.60,323.75 L234.50,295.60 L237.20,312.00 L239.75,325.00 L242.25,316.90 L245.60,353.10 L249.10,317.50 L251.25,316.00 L255.80,341.50 L259.60,334.00 L264.40,340.20 L266.80,338.60 L270.20,314.00 L271.00,311.25 L272.60,307.50 L274.10,311.90 L278.50,318.10 L281.00,308.75 L283.50,297.00 L286.60,285.10 L287.90,300.00 L289.40,321.25 L290.60,290.00 L291.60,274.50 L294.75,273.90 L297.25,279.50 L301.00,311.25 L303.10,316.25 L305.75,296.25 L308.50,308.75 L311.60,309.40 L314.75,305.60 L319.10,306.90 L320.30,292.00 L322.00,275.75 L324.75,283.25 L327.90,298.00 L330.40,302.50 L332.90,298.75 L335.60,292.50 L338.50,301.25 L341.00,310.00 L343.75,331.00 L347.25,320.00 L351.60,310.00 L354.75,318.10 L358.75,317.50 L360.60,308.75 L362.50,306.25 L364.40,297.50 L366.20,293.00 L368.80,289.00 L371.60,145.00 L374.30,119.00 L377.00,291.00" stroke="#000" stroke-width="1.0"/>
</g>
<rect x="78.5" y="60.5" width="997.0" height="385.00" fill="none" stroke="#000" stroke-width="1.1"/>
<path d="M78.50,445.5 v5.2 M163.50,445.5 v5.2 M240.50,445.5 v5.2 M325.50,445.5 v5.2 M407.50,445.5 v5.2 M492.50,445.5 v5.2 M574.50,445.5 v5.2 M659.50,445.5 v5.2 M744.50,445.5 v5.2 M826.50,445.5 v5.2 M911.50,445.5 v5.2 M993.50,445.5 v5.2 M78.5,423.50 h-5.2 M78.5,377.50 h-5.2 M78.5,331.50 h-5.2 M78.5,285.50 h-5.2 M78.5,239.50 h-5.2 M78.5,193.50 h-5.2 M78.5,147.50 h-5.2 M78.5,102.50 h-5.2" stroke="#000" stroke-width="1.1" fill="none"/>
<rect x="185.6" y="476.8" width="782.8" height="40" rx="3.5" ry="3.5" fill="#fff" fill-opacity="0.8" stroke="#d2d2d2" stroke-width="1.3"/>
<path d="M192.1,491.4 H225.4" stroke="#ff0000" stroke-width="0.8" stroke-dasharray="2.6 1.1"/>
<path d="M370.3,491.4 H403.6" stroke="#add8e6" stroke-width="1.4" stroke-dasharray="5.1 2.2"/>
<path d="M537.4,491.4 H573.4" stroke="#000" stroke-width="2.8"/>
<path d="M799,491.4 H832.8" stroke="#000" stroke-width="1.1"/>
<text x="361.12" y="31.75" font-size="25" fill="#2874a6" textLength="157.92" lengthAdjust="spacingAndGlyphs">Temperatura</text>
<text x="527.78" y="31.75" font-size="25" fill="#2874a6" textLength="73.5" lengthAdjust="spacingAndGlyphs">Media</text>
<text x="610.31" y="31.75" font-size="25" fill="#2874a6" textLength="69.79" lengthAdjust="spacingAndGlyphs">diaria</text>
<text x="690.67" y="31.75" font-size="25" fill="#2874a6" textLength="9.91" lengthAdjust="spacingAndGlyphs">-</text>
<text x="706.61" y="31.75" font-size="25" fill="#2874a6" textLength="86.23" lengthAdjust="spacingAndGlyphs">Arucas</text>
<text x="49.23" y="54.8" font-size="18.85" textLength="19.02" lengthAdjust="spacingAndGlyphs">°C</text>
<text x="82.03" y="54.8" font-size="18.85" textLength="54.42" lengthAdjust="spacingAndGlyphs">Última</text>
<text x="142.01" y="54.8" font-size="18.85" textLength="50.23" lengthAdjust="spacingAndGlyphs">temp:</text>
<text x="195.95" y="54.8" font-size="18.85" textLength="97.59" lengthAdjust="spacingAndGlyphs">2026-04-21</text>
<text x="89.21" y="84.25" font-size="23.2" fill="#2874a6" textLength="238.8" lengthAdjust="spacingAndGlyphs">WWW.EMBALSES.NET</text>
<text x="238.19" y="497" font-size="18.85" textLength="73.47" lengthAdjust="spacingAndGlyphs">Percentil</text>
<text x="315.62" y="497" font-size="18.85" textLength="21.34" lengthAdjust="spacingAndGlyphs">95</text>
<text x="416.19" y="497" font-size="18.85" textLength="73.47" lengthAdjust="spacingAndGlyphs">Percentil</text>
<text x="494.28" y="497" font-size="18.85" textLength="10.43" lengthAdjust="spacingAndGlyphs">5</text>
<text x="584.47" y="497" font-size="18.85" textLength="104.83" lengthAdjust="spacingAndGlyphs">Temperatura</text>
<text x="694.75" y="497" font-size="18.85" textLength="69.9" lengthAdjust="spacingAndGlyphs">Mediana</text>
<text x="845.69" y="497" font-size="18.85" textLength="13.89" lengthAdjust="spacingAndGlyphs">T.</text>
<text x="864.25" y="497" font-size="18.85" textLength="49.63" lengthAdjust="spacingAndGlyphs">Media</text>
<text x="919.02" y="497" font-size="18.85" textLength="43.39" lengthAdjust="spacingAndGlyphs">2026</text>
<text x="62.57" y="469" font-size="18.85" textLength="30.82" lengthAdjust="spacingAndGlyphs">Ene</text>
<text x="148.88" y="469" font-size="18.85" textLength="28.61" lengthAdjust="spacingAndGlyphs">Feb</text>
<text x="224.23" y="469" font-size="18.85" textLength="30.76" lengthAdjust="spacingAndGlyphs">Mar</text>
<text x="311.19" y="469" font-size="18.85" textLength="27.9" lengthAdjust="spacingAndGlyphs">Abr</text>
<text x="389.11" y="469" font-size="18.85" textLength="34.27" lengthAdjust="spacingAndGlyphs">May</text>
<text x="478.14" y="469" font-size="18.85" textLength="26.38" lengthAdjust="spacingAndGlyphs">Jun</text>
<text x="562.91" y="469" font-size="18.85" textLength="20.2" lengthAdjust="spacingAndGlyphs">Jul</text>
<text x="643.01" y="469" font-size="18.85" textLength="31.2" lengthAdjust="spacingAndGlyphs">Ago</text>
<text x="727.29" y="469" font-size="18.85" textLength="31.29" lengthAdjust="spacingAndGlyphs">Sep</text>
<text x="812.53" y="469" font-size="18.85" textLength="28.86" lengthAdjust="spacingAndGlyphs">Oct</text>
<text x="894.51" y="469" font-size="18.85" textLength="32.05" lengthAdjust="spacingAndGlyphs">Nov</text>
<text x="979.49" y="469" font-size="18.85" textLength="26.44" lengthAdjust="spacingAndGlyphs">Dic</text>
<text x="24.98" y="430.2" font-size="19.9" textLength="43.13" lengthAdjust="spacingAndGlyphs">10.0</text>
<text x="24.97" y="384.32" font-size="19.9" textLength="43.3" lengthAdjust="spacingAndGlyphs">12.5</text>
<text x="24.98" y="338.44" font-size="19.9" textLength="43.13" lengthAdjust="spacingAndGlyphs">15.0</text>
<text x="24.97" y="292.57" font-size="19.9" textLength="43.3" lengthAdjust="spacingAndGlyphs">17.5</text>
<text x="25.28" y="246.69" font-size="19.9" textLength="42.82" lengthAdjust="spacingAndGlyphs">20.0</text>
<text x="25.27" y="200.81" font-size="19.9" textLength="43.0" lengthAdjust="spacingAndGlyphs">22.5</text>
<text x="25.28" y="154.94" font-size="19.9" textLength="42.82" lengthAdjust="spacingAndGlyphs">25.0</text>
<text x="25.27" y="109.06" font-size="19.9" textLength="43.0" lengthAdjust="spacingAndGlyphs">27.5</text>
</svg></body></html>
